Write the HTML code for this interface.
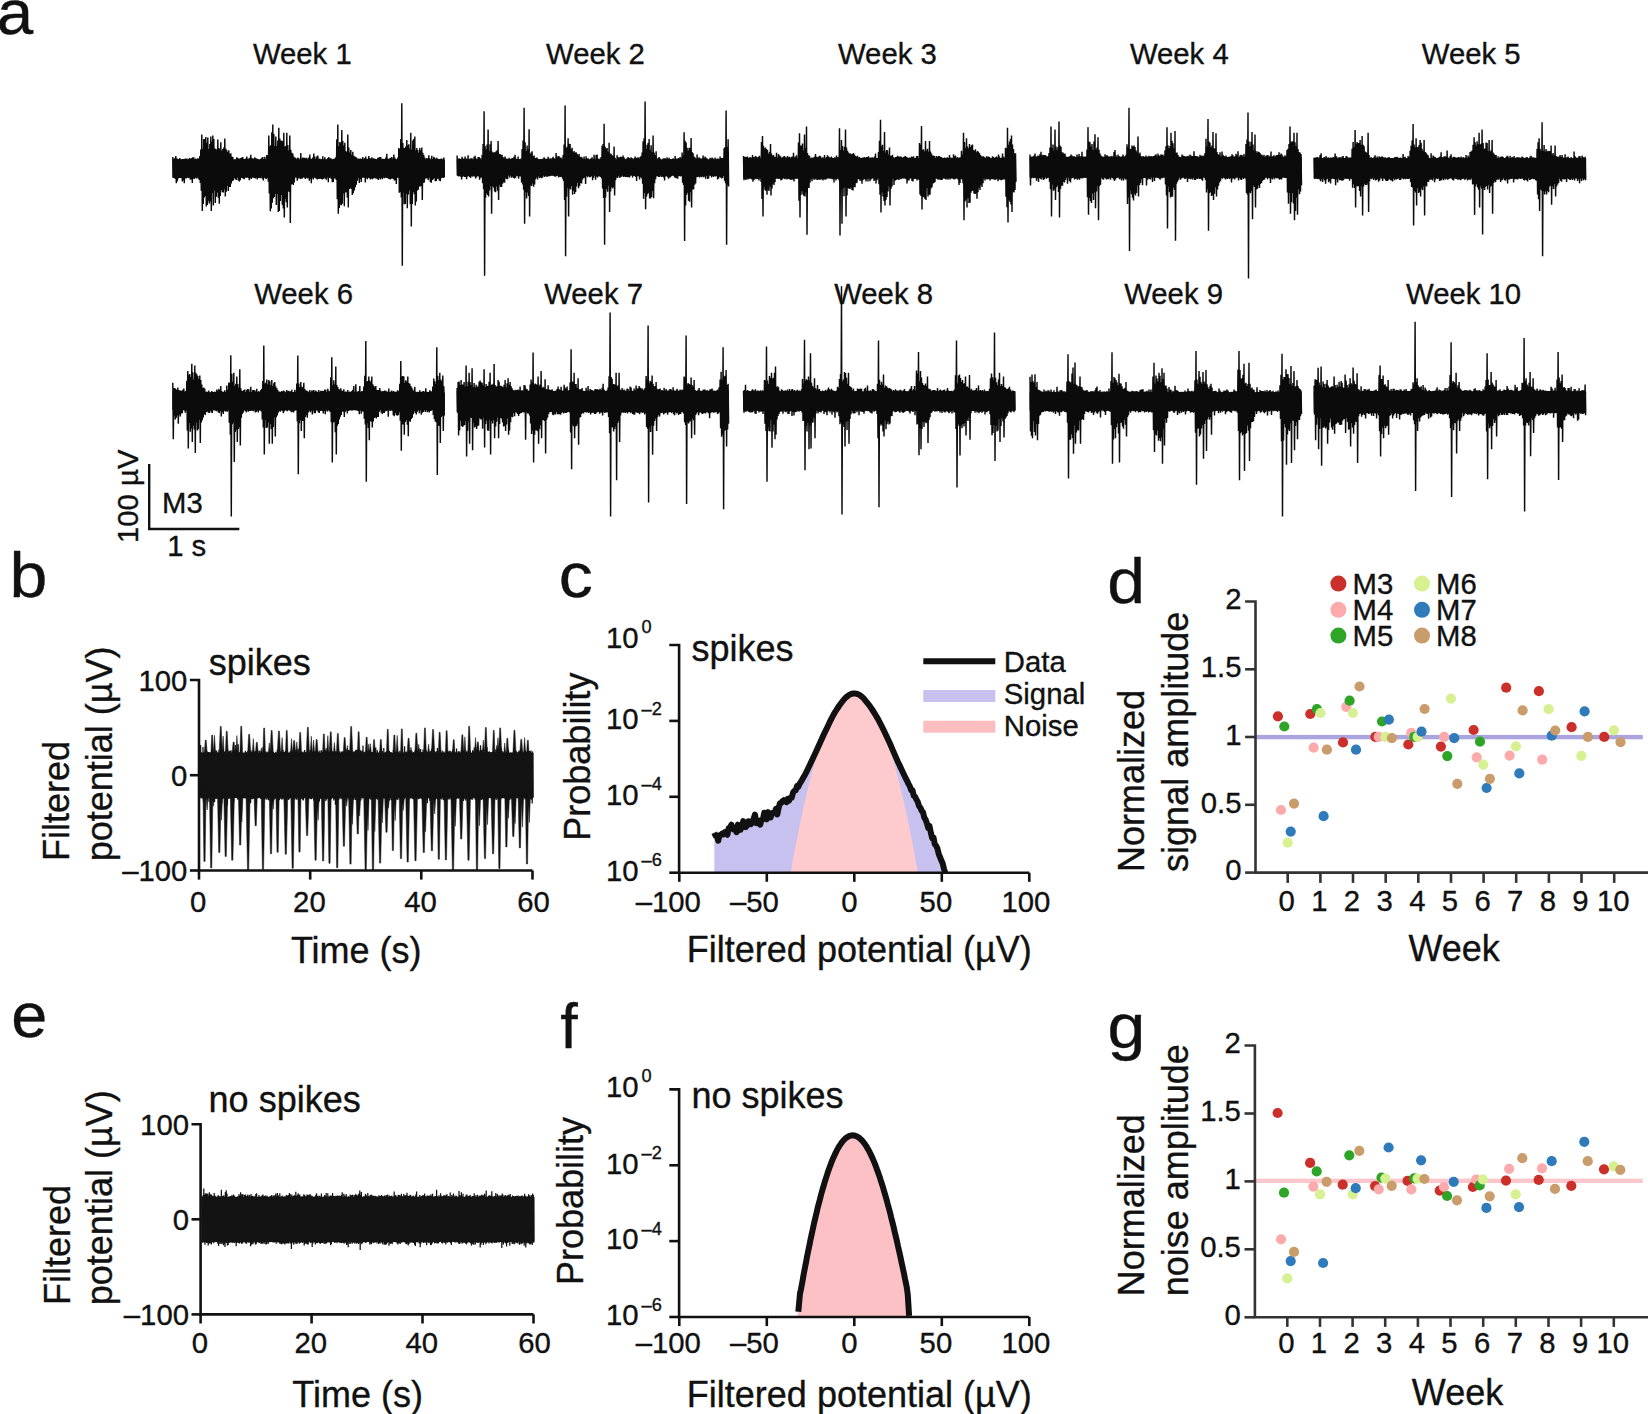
<!DOCTYPE html>
<html lang="en"><head><meta charset="utf-8"><title>Figure</title>
<style>html,body{margin:0;padding:0;background:#fff}body{width:1648px;height:1414px;overflow:hidden}svg{display:block}</style>
</head><body>
<svg width="1648" height="1414" viewBox="0 0 1648 1414" font-family='"Liberation Sans", sans-serif' fill="#111">
<style>text{stroke:#111;stroke-width:.35px;stroke-linejoin:round}</style>
<g id="panel-a">
<rect x="172.4" y="159.6" width="272.5" height="17.7" fill="#0b0b0b"/>
<path d="M172.8 157L172.8 157L173.3 177.9L173.8 159.1L174.3 178L174.8 157.9L175.3 178.9L175.8 155.9L176.3 183.2L176.8 158.2L177.3 181.2L177.8 158.9L178.3 178.4L178.8 159.3L179.3 178L179.8 158L180.3 178L180.8 159.4L181.3 178L181.8 159.3L182.3 181.4L182.8 159L183.3 180.3L183.8 159L184.3 183.3L184.8 158.8L185.3 178.2L185.8 158.4L186.3 178.5L186.8 158.6L187.3 177.6L187.8 159.5L188.3 178.1L188.8 158.8L189.3 177.7L189.8 158.1L190.3 179.8L190.8 159L191.3 179.6L191.8 158L192.3 183.1L192.8 157.2L193.3 178.4L193.8 157.3L194.3 179.1L194.8 159.3L195.3 177.6L195.8 158.4L196.3 178.6L196.8 159.4L197.3 177.5L197.8 158.2L198.3 178.7L198.8 158.5L199.3 180.1L199.8 156.1L200.3 183L200.8 149.5L201.3 190.8L201.8 134.6L202.3 211.1L202.8 148.8L203.3 204.1L203.8 139L204.3 197.6L204.8 138.9L205.3 195.9L205.8 137L206.3 206.5L206.8 142.8L207.3 205.1L207.8 137.6L208.3 200.8L208.8 148.9L209.3 203.5L209.8 144L210.3 201.4L210.8 136.4L211.3 211.1L211.8 141.5L212.3 193.1L212.8 135.5L213.3 205.6L213.8 139.1L214.3 190.4L214.8 148.6L215.3 202.9L215.8 148.7L216.3 196.7L216.8 149.7L217.3 192.4L217.8 139.5L218.3 197.7L218.8 147.9L219.3 203.7L219.8 149L220.3 196.1L220.8 142.2L221.3 189.9L221.8 150.7L222.3 192.2L222.8 149L223.3 192.6L223.8 147.5L224.3 189.6L224.8 138.6L225.3 196.5L225.8 148.8L226.3 191.8L226.8 150.3L227.3 185.8L227.8 151.9L228.3 191L228.8 150.2L229.3 186.9L229.8 153.7L230.3 187L230.8 153.2L231.3 183.6L231.8 156.6L232.3 181.1L232.8 157.1L233.3 180.4L233.8 159.6L234.3 177.9L234.8 159.3L235.3 179.3L235.8 159.6L236.3 179.9L236.8 157.2L237.3 177.5L237.8 158.1L238.3 180.5L238.8 158.7L239.3 181.4L239.8 158.5L240.3 180.3L240.8 158.1L241.3 178.1L241.8 157.5L242.3 178.1L242.8 156.9L243.3 178.7L243.8 159.1L244.3 179.2L244.8 159.1L245.3 177.6L245.8 158.6L246.3 177.7L246.8 156.6L247.3 177.3L247.8 158.8L248.3 178L248.8 158.5L249.3 180.2L249.8 157.7L250.3 178.1L250.8 154.7L251.3 179L251.8 158L252.3 177.3L252.8 158.6L253.3 177.8L253.8 158.6L254.3 177.9L254.8 157.3L255.3 178.6L255.8 158.3L256.3 177.7L256.8 158.5L257.3 179.5L257.8 159L258.3 177.9L258.8 159.5L259.3 177.8L259.8 159.6L260.3 178.3L260.8 158.8L261.3 177.3L261.8 157.8L262.3 178.8L262.8 157.1L263.3 180.5L263.8 159.1L264.3 177.6L264.8 156.8L265.3 178.5L265.8 159.1L266.3 178.9L266.8 155.1L267.3 177.9L267.8 154.9L268.3 181.8L268.8 135.4L269.3 193.6L269.8 146.3L270.3 211.3L270.8 145.2L271.3 208.4L271.8 132.2L272.3 202.8L272.8 124.6L273.3 198.3L273.8 134.1L274.3 196.9L274.8 146.1L275.3 193.7L275.8 136.6L276.3 204.9L276.8 146.2L277.3 193.9L277.8 140.5L278.3 211.9L278.8 127.7L279.3 211.1L279.8 138.4L280.3 200.9L280.8 140.4L281.3 195.1L281.8 140.8L282.3 204.7L282.8 141.2L283.3 208.5L283.8 132.8L284.3 217.4L284.8 146.5L285.3 198.9L285.8 146L286.3 202.2L286.8 132.8L287.3 207.4L287.8 145L288.3 191.3L288.8 150.4L289.3 191.9L289.8 135.5L290.3 222.9L290.8 149.8L291.3 184.4L291.8 152.8L292.3 184.1L292.8 153.5L293.3 184.9L293.8 156.6L294.3 182.5L294.8 157.5L295.3 177.4L295.8 158L296.3 177.6L296.8 159.3L297.3 180.7L297.8 157.5L298.3 178.5L298.8 158.2L299.3 177.7L299.8 159.6L300.3 179.1L300.8 153.1L301.3 178.8L301.8 158.5L302.3 178.6L302.8 157.4L303.3 177.3L303.8 157.8L304.3 177.6L304.8 157.7L305.3 178.9L305.8 158.2L306.3 177.6L306.8 157.8L307.3 178.6L307.8 159.4L308.3 177.9L308.8 157.4L309.3 180.8L309.8 154.5L310.3 178.9L310.8 158.5L311.3 183.3L311.8 159L312.3 177.9L312.8 157.5L313.3 179.5L313.8 153.4L314.3 177.8L314.8 156.6L315.3 177.8L315.8 159L316.3 178.8L316.8 156.5L317.3 179.6L317.8 155.5L318.3 178.8L318.8 158.7L319.3 179L319.8 158.5L320.3 178.7L320.8 159.4L321.3 179.1L321.8 159.1L322.3 179.4L322.8 156.2L323.3 179L323.8 159.4L324.3 177.7L324.8 157.3L325.3 178.8L325.8 159.2L326.3 179.7L326.8 159.2L327.3 177.4L327.8 157.9L328.3 182.2L328.8 157.1L329.3 177.9L329.8 158.6L330.3 177.4L330.8 158L331.3 178.9L331.8 159.3L332.3 182.2L332.8 159.6L333.3 182.1L333.8 158.8L334.3 178.4L334.8 158.5L335.3 178.4L335.8 157.2L336.3 179.9L336.8 139.2L337.3 199.2L337.8 124.6L338.3 213.8L338.8 146.2L339.3 208L339.8 142L340.3 204.8L340.8 142.5L341.3 205.2L341.8 130.1L342.3 203.8L342.8 141.1L343.3 193.4L343.8 145.6L344.3 206.2L344.8 142.7L345.3 192.4L345.8 150.9L346.3 192.3L346.8 151.9L347.3 197.4L347.8 134.6L348.3 207.4L348.8 147.6L349.3 188.9L349.8 152.6L350.3 188.2L350.8 149.9L351.3 189L351.8 154.7L352.3 195L352.8 151.8L353.3 193.2L353.8 155.8L354.3 190.6L354.8 156.6L355.3 187.2L355.8 157.1L356.3 184.7L356.8 157.8L357.3 180.8L357.8 159.3L358.3 178.1L358.8 158.6L359.3 182.9L359.8 158.8L360.3 179.1L360.8 158.5L361.3 182L361.8 159L362.3 177.4L362.8 157L363.3 177.8L363.8 158.9L364.3 177.4L364.8 157.9L365.3 182.4L365.8 156.5L366.3 177.7L366.8 159L367.3 179.3L367.8 158.7L368.3 177.7L368.8 156.1L369.3 178L369.8 158.1L370.3 179.4L370.8 158.7L371.3 178.5L371.8 157.3L372.3 179.3L372.8 158.6L373.3 178.5L373.8 158.3L374.3 177.7L374.8 158.8L375.3 178.4L375.8 159L376.3 178.4L376.8 159.5L377.3 179.1L377.8 157.7L378.3 180.1L378.8 157.6L379.3 177.9L379.8 157L380.3 179.6L380.8 157.1L381.3 178L381.8 159.1L382.3 179.3L382.8 158.8L383.3 177.5L383.8 159.1L384.3 178.3L384.8 158.9L385.3 177.3L385.8 157.5L386.3 177.9L386.8 153.8L387.3 177.7L387.8 158.4L388.3 178.8L388.8 159L389.3 178.9L389.8 158.2L390.3 179.4L390.8 157.8L391.3 178.8L391.8 157.1L392.3 178.6L392.8 158.6L393.3 178.9L393.8 154.4L394.3 180.6L394.8 157.4L395.3 180.4L395.8 159.1L396.3 183.9L396.8 159.2L397.3 177.7L397.8 157.5L398.3 177.8L398.8 148.1L399.3 192.8L399.8 149L400.3 192.2L400.8 139L401.3 197.6L401.8 103.3L402.3 265.7L402.8 142.9L403.3 192.5L403.8 147.8L404.3 204.2L404.8 148L405.3 204L405.8 146.5L406.3 193.7L406.8 140.1L407.3 208.3L407.8 145.2L408.3 194.5L408.8 144.2L409.3 190.5L409.8 148.6L410.3 204.2L410.8 132.8L411.3 226.5L411.8 149.7L412.3 203.9L412.8 140.6L413.3 191.9L413.8 139.1L414.3 194.3L414.8 136.4L415.3 205.6L415.8 150.3L416.3 201.4L416.8 148.1L417.3 190.4L417.8 149.9L418.3 189.8L418.8 152.7L419.3 186.4L419.8 148.1L420.3 186.4L420.8 150.2L421.3 186.1L421.8 147.4L422.3 200.1L422.8 152.8L423.3 183L423.8 154.9L424.3 182.5L424.8 157.5L425.3 178.7L425.8 159.3L426.3 178.3L426.8 157.9L427.3 178.4L427.8 158.4L428.3 180L428.8 155.2L429.3 177.6L429.8 158.2L430.3 182.1L430.8 159.5L431.3 182.7L431.8 155.8L432.3 180L432.8 159L433.3 179.3L433.8 156.8L434.3 178.1L434.8 157.7L435.3 181.2L435.8 159L436.3 180.9L436.8 157.7L437.3 178.8L437.8 158.7L438.3 178.7L438.8 159.2L439.3 180.6L439.8 158.9L440.3 181.2L440.8 158.8L441.3 178.3L441.8 158.4L442.3 177.4L442.8 159.6L443.3 178L443.8 157.4L444.3 177.3" fill="none" stroke="#0b0b0b" stroke-width="1.45" stroke-linejoin="bevel"/>
<rect x="456.7" y="159.6" width="272.3" height="15.8" fill="#0b0b0b"/>
<path d="M457.1 155.6L457.1 155.6L457.6 175.7L458.1 158.7L458.6 176.5L459.1 158.3L459.6 176.1L460.1 158.9L460.6 176.7L461.1 158.7L461.6 179.6L462.1 156.7L462.6 177L463.1 158.4L463.6 175.7L464.1 158.7L464.6 177L465.1 156.6L465.6 177.1L466.1 158.5L466.6 179.3L467.1 158.8L467.6 176.5L468.1 155.3L468.6 176L469.1 159.4L469.6 176.9L470.1 158.5L470.6 178.1L471.1 158.2L471.6 176.2L472.1 158.2L472.6 176.8L473.1 159.4L473.6 175.8L474.1 156.7L474.6 176.4L475.1 155.7L475.6 178.6L476.1 158.6L476.6 177.3L477.1 159.2L477.6 176.1L478.1 157.1L478.6 176.5L479.1 157.1L479.6 179.7L480.1 157.9L480.6 177.8L481.1 159.4L481.6 177.4L482.1 155L482.6 183.3L483.1 143.9L483.6 189.2L484.1 111.3L484.6 275.7L485.1 145.9L485.6 197.7L486.1 149.2L486.6 193.5L487.1 144.6L487.6 194.9L488.1 129.5L488.6 196.5L489.1 151L489.6 190.4L490.1 144.3L490.6 186.3L491.1 141L491.6 213.8L492.1 151.6L492.6 185.9L493.1 153L493.6 187.5L494.1 151.9L494.6 191.4L495.1 152.5L495.6 192.3L496.1 151.2L496.6 186.4L497.1 150.3L497.6 190.7L498.1 141L498.6 200.1L499.1 153.8L499.6 184.7L500.1 154L500.6 186.9L501.1 155L501.6 187.1L502.1 154.8L502.6 183.7L503.1 157.3L503.6 182.2L504.1 157.5L504.6 182.8L505.1 156.4L505.6 178.6L506.1 158.7L506.6 178.9L507.1 158.5L507.6 179.3L508.1 159.1L508.6 175.5L509.1 157.8L509.6 177.6L510.1 158.9L510.6 175.6L511.1 158.8L511.6 177.8L512.1 158.1L512.6 176.7L513.1 158.3L513.6 177.9L514.1 156.8L514.6 178.6L515.1 154.8L515.6 177.7L516.1 158.7L516.6 175.7L517.1 159.1L517.6 176.2L518.1 156.5L518.6 178.8L519.1 159.1L519.6 176.3L520.1 159.3L520.6 176.5L521.1 158.6L521.6 182.6L522.1 148.9L522.6 184.4L523.1 140.6L523.6 189.8L524.1 107.7L524.6 223.8L525.1 142.3L525.6 192.2L526.1 150.9L526.6 198.5L527.1 145.4L527.6 192.5L528.1 149.2L528.6 195.9L529.1 129.2L529.6 216.5L530.1 153.9L530.6 185.5L531.1 152.6L531.6 186L532.1 151.2L532.6 183.6L533.1 156.2L533.6 186.8L534.1 155.5L534.6 184.4L535.1 158L535.6 179.2L536.1 157.7L536.6 177.5L537.1 157.4L537.6 179.4L538.1 158.9L538.6 176.4L539.1 159.4L539.6 178.1L540.1 158.9L540.6 177.5L541.1 159.1L541.6 178.2L542.1 159.3L542.6 177.4L543.1 158.4L543.6 175.5L544.1 157.3L544.6 176.9L545.1 158.6L545.6 175.9L546.1 158.8L546.6 176.7L547.1 158.8L547.6 176.7L548.1 156.8L548.6 176.2L549.1 158.7L549.6 176.3L550.1 158.3L550.6 175.8L551.1 159.1L551.6 175.8L552.1 158.1L552.6 175.7L553.1 156.7L553.6 175.8L554.1 158.3L554.6 176.5L555.1 158.6L555.6 176.8L556.1 153.1L556.6 176L557.1 157.2L557.6 175.5L558.1 155.9L558.6 177.6L559.1 156.2L559.6 176.7L560.1 157.6L560.6 177L561.1 157.4L561.6 176.7L562.1 158.8L562.6 178.8L563.1 155.1L563.6 181L564.1 144.6L564.6 200L565.1 105.5L565.6 256.2L566.1 148.1L566.6 196.8L567.1 146.8L567.6 187.7L568.1 138.3L568.6 216.5L569.1 143.7L569.6 188.5L570.1 143.9L570.6 189.4L571.1 149.2L571.6 186.1L572.1 147.7L572.6 194.8L573.1 152.2L573.6 190.7L574.1 151.1L574.6 194L575.1 152.5L575.6 192.1L576.1 152.2L576.6 186.6L577.1 153.8L577.6 182.7L578.1 155.2L578.6 188.2L579.1 154.1L579.6 185.9L580.1 156.9L580.6 183.1L581.1 156.8L581.6 183.4L582.1 157.5L582.6 179.6L583.1 158.8L583.6 178L584.1 156.5L584.6 177.7L585.1 159.3L585.6 184L586.1 156.2L586.6 175.9L587.1 158.5L587.6 177.3L588.1 158.3L588.6 176L589.1 159.2L589.6 177.3L590.1 159.3L590.6 176.9L591.1 158.3L591.6 176.1L592.1 157.3L592.6 180.3L593.1 159.3L593.6 177.8L594.1 154.7L594.6 175.5L595.1 159.3L595.6 179.8L596.1 154.9L596.6 176.6L597.1 154.5L597.6 177.6L598.1 158.6L598.6 176.3L599.1 159.4L599.6 176.5L600.1 158.5L600.6 176.9L601.1 157.1L601.6 178.4L602.1 145.7L602.6 188.4L603.1 144.1L603.6 197.9L604.1 123.7L604.6 244.7L605.1 146.7L605.6 197.5L606.1 148.7L606.6 188.9L607.1 148L607.6 191.8L608.1 151.8L608.6 185.4L609.1 142.8L609.6 212L610.1 153.6L610.6 191.6L611.1 153.7L611.6 187.3L612.1 155.2L612.6 188.5L613.1 155.8L613.6 187.1L614.1 146.4L614.6 195.6L615.1 157.8L615.6 180.3L616.1 159.6L616.6 177.6L617.1 155.2L617.6 178.1L618.1 157L618.6 175.7L619.1 158L619.6 177.8L620.1 156.8L620.6 177.3L621.1 156.8L621.6 176.7L622.1 157.1L622.6 175.5L623.1 155.5L623.6 177L624.1 157.4L624.6 176.6L625.1 159.4L625.6 177.1L626.1 158.7L626.6 177L627.1 158.2L627.6 177.2L628.1 157L628.6 176.9L629.1 157.9L629.6 177.4L630.1 158.3L630.6 175.5L631.1 157.2L631.6 175.6L632.1 158L632.6 177.4L633.1 159.5L633.6 175.8L634.1 158.2L634.6 176L635.1 156.6L635.6 177L636.1 158.1L636.6 180.9L637.1 157.7L637.6 176L638.1 157.2L638.6 176.4L639.1 158.4L639.6 179.4L640.1 157.1L640.6 177.1L641.1 156L641.6 178.2L642.1 152.5L642.6 183.7L643.1 141.2L643.6 198.8L644.1 138.2L644.6 193.1L645.1 101.5L645.6 209.2L646.1 149L646.6 196.6L647.1 144.7L647.6 193.9L648.1 143.1L648.6 192.8L649.1 139.1L649.6 198.4L650.1 150.1L650.6 198.5L651.1 145.2L651.6 197.1L652.1 152.2L652.6 191L653.1 135.5L653.6 198.3L654.1 152.6L654.6 183.2L655.1 155L655.6 179.3L656.1 151.3L656.6 176.6L657.1 159.2L657.6 175.9L658.1 158L658.6 176.9L659.1 157L659.6 176.9L660.1 158.6L660.6 175.5L661.1 159.4L661.6 176.9L662.1 159.4L662.6 176.4L663.1 158.5L663.6 177.5L664.1 158.2L664.6 180.6L665.1 158.3L665.6 176.6L666.1 158.8L666.6 175.9L667.1 157.3L667.6 177.3L668.1 159L668.6 178.7L669.1 157.8L669.6 177.5L670.1 159L670.6 177.2L671.1 159.2L671.6 176L672.1 159L672.6 175.6L673.1 158.2L673.6 175.8L674.1 158.9L674.6 177.4L675.1 156L675.6 177.8L676.1 158.4L676.6 178.3L677.1 159.2L677.6 178.7L678.1 158L678.6 176.2L679.1 158.3L679.6 176.1L680.1 156.9L680.6 176.4L681.1 158.3L681.6 175.9L682.1 152.6L682.6 182.8L683.1 155.8L683.6 185L684.1 132.2L684.6 241.1L685.1 140.7L685.6 205.5L686.1 142.4L686.6 194.8L687.1 147.7L687.6 192.8L688.1 150.5L688.6 200.8L689.1 147.8L689.6 201.8L690.1 148L690.6 192.3L691.1 137.9L691.6 207.4L692.1 151.9L692.6 189.6L693.1 153.3L693.6 189.4L694.1 156.6L694.6 184.7L695.1 157.4L695.6 183.5L696.1 158.6L696.6 177.2L697.1 154.5L697.6 177L698.1 158.3L698.6 176.8L699.1 157.3L699.6 177.6L700.1 158.2L700.6 176.6L701.1 158.8L701.6 177.3L702.1 158.2L702.6 176.6L703.1 155.4L703.6 177.2L704.1 158.1L704.6 176.5L705.1 156.4L705.6 178.7L706.1 157.7L706.6 175.5L707.1 158.4L707.6 179L708.1 159.3L708.6 178.5L709.1 159.5L709.6 175.5L710.1 157.7L710.6 175.7L711.1 158.4L711.6 177.6L712.1 157.6L712.6 176L713.1 158.5L713.6 177.1L714.1 159.2L714.6 176L715.1 157.6L715.6 176.4L716.1 159.4L716.6 176.1L717.1 158.5L717.6 179.4L718.1 158.6L718.6 178.6L719.1 159.2L719.6 176.7L720.1 156.5L720.6 177.6L721.1 158.1L721.6 178.4L722.1 158.1L722.6 178.1L723.1 158L723.6 175.9L724.1 148.2L724.6 180.7L725.1 147L725.6 183.2L726.1 110.6L726.6 244.7L727.1 146.9L727.6 184.7L728.1 139.2L728.6 186.5" fill="none" stroke="#0b0b0b" stroke-width="1.45" stroke-linejoin="bevel"/>
<rect x="743.1" y="158.4" width="272.7" height="19.8" fill="#0b0b0b"/>
<path d="M743.5 155.9L743.5 155.9L744 180.2L744.5 157L745 179L745.5 156.7L746 179.9L746.5 157L747 178.6L747.5 156.4L748 179.6L748.5 157.9L749 178.6L749.5 157.6L750 178.7L750.5 157L751 178.8L751.5 158.2L752 179.5L752.5 155L753 181.8L753.5 156.9L754 180L754.5 157.3L755 178.5L755.5 156.1L756 179.3L756.5 156.7L757 178.8L757.5 157.5L758 178.9L758.5 156.8L759 180.5L759.5 155.8L760 178.3L760.5 158.2L761 181.7L761.5 142.1L762 199.1L762.5 136.1L763 216.5L763.5 145.7L764 187.2L764.5 148.3L765 190.1L765.5 147.5L766 191.1L766.5 149.1L767 194.8L767.5 150L768 189.8L768.5 153.8L769 191.1L769.5 152.1L770 186.5L770.5 144.1L771 195.6L771.5 153.6L772 188.5L772.5 155.7L773 183.8L773.5 154.9L774 185L774.5 156.7L775 182.3L775.5 156.9L776 178.7L776.5 152.7L777 178.6L777.5 157.5L778 178.8L778.5 154L779 179L779.5 155.6L780 178.7L780.5 156.2L781 180.5L781.5 157.8L782 179.8L782.5 157.3L783 178.3L783.5 156.6L784 178.6L784.5 156L785 179.2L785.5 157.2L786 178.3L786.5 157.5L787 179.4L787.5 156L788 178.8L788.5 157.3L789 178.9L789.5 156.8L790 179.4L790.5 158.2L791 180.1L791.5 156.8L792 179.3L792.5 156.6L793 179.8L793.5 152.8L794 181.6L794.5 157.2L795 178.6L795.5 156.4L796 179.1L796.5 155.2L797 178.4L797.5 158.3L798 178.7L798.5 142.6L799 200.7L799.5 133.2L800 217.4L800.5 145.5L801 194.9L801.5 145.5L802 191.2L802.5 143.4L803 194.6L803.5 150.5L804 196L804.5 134.6L805 196.5L805.5 148L806 192.5L806.5 126.4L807 234.7L807.5 153L808 187.7L808.5 155.3L809 188.1L809.5 155.7L810 182.8L810.5 158.4L811 179.2L811.5 157.6L812 181.3L812.5 157.8L813 178.3L813.5 157.5L814 179.7L814.5 156.8L815 179.4L815.5 154.1L816 178.6L816.5 156.7L817 180.1L817.5 157.2L818 179.8L818.5 156.8L819 179.3L819.5 155.7L820 180L820.5 156.3L821 179L821.5 158.3L822 179.4L822.5 157.3L823 180.6L823.5 157.7L824 179.1L824.5 155L825 179.7L825.5 158L826 179.5L826.5 157L827 178.6L827.5 155.2L828 178.4L828.5 156.6L829 178.3L829.5 157.2L830 178.7L830.5 157.5L831 178.3L831.5 156.5L832 179.2L832.5 157.9L833 179.3L833.5 158L834 182.4L834.5 157.2L835 179L835.5 157.6L836 180.5L836.5 155.5L837 179L837.5 157.3L838 178.4L838.5 157.1L839 180.3L839.5 128.2L840 235.6L840.5 150L841 189.1L841.5 140.1L842 223.8L842.5 146.1L843 188.1L843.5 150.6L844 196.3L844.5 146.8L845 187.3L845.5 129.5L846 216.5L846.5 147.5L847 195.5L847.5 150.8L848 188.1L848.5 152.4L849 188.8L849.5 153.8L850 189L850.5 153.2L851 187.7L851.5 154.4L852 190L852.5 153.9L853 190.5L853.5 153.1L854 186.7L854.5 154.4L855 187.2L855.5 155.9L856 183.2L856.5 156.6L857 182.8L857.5 155.7L858 179.3L858.5 157.6L859 179.2L859.5 157.1L860 180.7L860.5 158L861 180.8L861.5 158.1L862 183.7L862.5 157.5L863 180.3L863.5 157.5L864 179.1L864.5 157L865 179.5L865.5 157.9L866 181.4L866.5 157.1L867 179.3L867.5 157.1L868 181.5L868.5 156.3L869 178.4L869.5 157.7L870 181.2L870.5 157.5L871 179.6L871.5 157.6L872 178.5L872.5 157.3L873 178.3L873.5 158L874 181.1L874.5 156.6L875 179.8L875.5 153.6L876 183.4L876.5 158L877 180.3L877.5 157.9L878 178.5L878.5 151.9L879 184.3L879.5 140.7L880 194.8L880.5 119.7L881 212.5L881.5 146.3L882 192.6L882.5 144.8L883 196.6L883.5 151.1L884 200.9L884.5 131.9L885 205.6L885.5 152.5L886 199.8L886.5 150L887 197L887.5 150.3L888 191.5L888.5 154.5L889 186.6L889.5 147.4L890 205.6L890.5 155.8L891 188.7L891.5 155.7L892 186.5L892.5 154.8L893 178.8L893.5 157.2L894 185L894.5 158.2L895 180.7L895.5 156.9L896 180L896.5 157.1L897 179.6L897.5 155.7L898 179.2L898.5 156.6L899 180L899.5 156.4L900 178.5L900.5 156.4L901 179.2L901.5 156.7L902 178.3L902.5 158.1L903 178.6L903.5 157.1L904 178.3L904.5 156.4L905 178.5L905.5 156.1L906 178.9L906.5 157.1L907 183.4L907.5 157.5L908 180.4L908.5 158L909 180.4L909.5 157.5L910 178.3L910.5 157.7L911 178.6L911.5 156.6L912 181.1L912.5 157.1L913 181.5L913.5 156.3L914 178.9L914.5 158L915 178.8L915.5 158.1L916 178.9L916.5 155.9L917 180.4L917.5 155.9L918 178.9L918.5 158.3L919 180L919.5 143L920 194.4L920.5 144.7L921 196L921.5 126.1L922 209.6L922.5 149.9L923 197L923.5 149.3L924 197.3L924.5 151.4L925 198.9L925.5 141L926 200.1L926.5 150.4L927 188L927.5 148.8L928 196.4L928.5 151.7L929 194.7L929.5 141L930 194.7L930.5 151.4L931 188.4L931.5 153.4L932 187.2L932.5 155.4L933 183.5L933.5 155.5L934 183.1L934.5 156.1L935 182L935.5 157.7L936 178.5L936.5 156L937 178.7L937.5 157.1L938 179.7L938.5 155.9L939 179.3L939.5 156.1L940 179.8L940.5 156.9L941 180L941.5 157.1L942 179.9L942.5 157.9L943 178.5L943.5 158.1L944 178.4L944.5 157.4L945 178.8L945.5 158.1L946 179.6L946.5 157.8L947 178.4L947.5 157.3L948 179.8L948.5 158L949 178.3L949.5 155.1L950 179.6L950.5 157.4L951 178.6L951.5 157.8L952 178.3L952.5 158L953 178.8L953.5 154.3L954 179.4L954.5 156.3L955 179.3L955.5 155.4L956 178.6L956.5 158.1L957 178.3L957.5 156.9L958 179.5L958.5 158L959 184.9L959.5 157.4L960 182.9L960.5 157.2L961 179.1L961.5 150.7L962 179.6L962.5 154.8L963 183.2L963.5 132.8L964 220.2L964.5 141.9L965 201.4L965.5 147.9L966 199.7L966.5 138.3L967 207.4L967.5 146.4L968 198.1L968.5 148.3L969 203.1L969.5 144.1L970 202.8L970.5 147L971 192.7L971.5 145.3L972 191.1L972.5 144.6L973 190.5L973.5 150.1L974 193.4L974.5 150.7L975 193.9L975.5 149.3L976 193.6L976.5 152.3L977 198.7L977.5 150.9L978 192.3L978.5 151.7L979 187.7L979.5 153.2L980 190L980.5 154.9L981 184.9L981.5 156.2L982 186.9L982.5 156.6L983 183.2L983.5 156.3L984 178.4L984.5 157.3L985 180.4L985.5 158.1L986 178.8L986.5 156.3L987 179.4L987.5 156.7L988 179.3L988.5 156.5L989 178.9L989.5 156.9L990 180.4L990.5 158L991 179.2L991.5 158.2L992 178.9L992.5 156.3L993 179.2L993.5 157L994 179.5L994.5 158.1L995 180L995.5 157.3L996 179.5L996.5 156.6L997 178.9L997.5 157.6L998 181.2L998.5 154.4L999 179.5L999.5 156.4L1000 179.7L1000.5 158L1001 180.2L1001.5 157.8L1002 180.1L1002.5 153.5L1003 179.3L1003.5 156.7L1004 179.6L1004.5 157.7L1005 179.4L1005.5 147.7L1006 196.8L1006.5 148.3L1007 207.3L1007.5 127.7L1008 222.5L1008.5 144.7L1009 200.3L1009.5 141.5L1010 202.1L1010.5 139.1L1011 204.5L1011.5 135.5L1012 212L1012.5 144.6L1013 192L1013.5 148.9L1014 192.4L1014.5 153.3L1015 190L1015.5 153.3L1016 181.7" fill="none" stroke="#0b0b0b" stroke-width="1.45" stroke-linejoin="bevel"/>
<rect x="1029.6" y="157.1" width="272.1" height="20.2" fill="#0b0b0b"/>
<path d="M1030 154.6L1030 154.6L1030.5 185.6L1031 156.7L1031.5 178.2L1032 156.5L1032.5 177.6L1033 156.5L1033.5 178.3L1034 155.5L1034.5 177.4L1035 153.6L1035.5 177.9L1036 156.4L1036.5 180.7L1037 156.4L1037.5 178.3L1038 155.6L1038.5 182L1039 156.1L1039.5 178L1040 154.1L1040.5 178.7L1041 151.8L1041.5 179.6L1042 155.6L1042.5 177.6L1043 154.7L1043.5 180L1044 155.3L1044.5 179.1L1045 155L1045.5 177.3L1046 155.5L1046.5 178.8L1047 157L1047.5 177.9L1048 156L1048.5 177.4L1049 152.9L1049.5 181.8L1050 147.5L1050.5 189.3L1051 126.4L1051.5 216.5L1052 148L1052.5 184.6L1053 144.4L1053.5 190.8L1054 150.5L1054.5 189.6L1055 129.5L1055.5 200.1L1056 146.5L1056.5 187.3L1057 149.7L1057.5 185.5L1058 146.9L1058.5 192L1059 121.5L1059.5 217.4L1060 145.5L1060.5 189.1L1061 146.8L1061.5 185.8L1062 152.3L1062.5 185.7L1063 152.6L1063.5 181.8L1064 154.1L1064.5 182.4L1065 153.5L1065.5 180L1066 156.4L1066.5 177.5L1067 157L1067.5 183.8L1068 156.7L1068.5 177.5L1069 156.8L1069.5 181L1070 156.1L1070.5 182.4L1071 154.5L1071.5 178.6L1072 155.5L1072.5 178L1073 156.7L1073.5 177.7L1074 155.9L1074.5 179.6L1075 156.9L1075.5 178.9L1076 156.7L1076.5 178.6L1077 154.5L1077.5 179.7L1078 156.5L1078.5 178.6L1079 153.9L1079.5 179.7L1080 156.2L1080.5 178.3L1081 156.3L1081.5 178.2L1082 151.7L1082.5 178.4L1083 156.5L1083.5 177.7L1084 156.6L1084.5 177.7L1085 156.7L1085.5 178.1L1086 156.4L1086.5 177.6L1087 149.4L1087.5 197.3L1088 127.3L1088.5 214.7L1089 141.6L1089.5 198L1090 142.3L1090.5 201.2L1091 146.4L1091.5 203.1L1092 143.9L1092.5 193.4L1093 149.9L1093.5 199.9L1094 141.6L1094.5 192.6L1095 134.2L1095.5 208.3L1096 149.6L1096.5 191.5L1097 147.4L1097.5 186.3L1098 137.3L1098.5 220.2L1099 149.8L1099.5 186.1L1100 153.5L1100.5 184.7L1101 155.5L1101.5 177.5L1102 156.4L1102.5 179.2L1103 156.5L1103.5 179.8L1104 156.9L1104.5 177.7L1105 154.3L1105.5 178.6L1106 156.1L1106.5 179.4L1107 155L1107.5 178.9L1108 156.2L1108.5 179.3L1109 156.7L1109.5 177.8L1110 156.3L1110.5 179.7L1111 156.4L1111.5 177.4L1112 155.7L1112.5 178L1113 157L1113.5 179.4L1114 152.1L1114.5 181.1L1115 150L1115.5 179.4L1116 155.2L1116.5 178.1L1117 156.9L1117.5 177.8L1118 154.6L1118.5 177.6L1119 156.1L1119.5 179.2L1120 156.5L1120.5 178.5L1121 157L1121.5 180.6L1122 156.3L1122.5 178.7L1123 154.5L1123.5 180.5L1124 156.5L1124.5 178.3L1125 156.2L1125.5 179.5L1126 154.7L1126.5 179.6L1127 144.3L1127.5 203.9L1128 147L1128.5 197.4L1129 107.7L1129.5 251.1L1130 148.8L1130.5 190.5L1131 149.1L1131.5 194.3L1132 145.4L1132.5 197.7L1133 146.6L1133.5 200.4L1134 145.5L1134.5 193.8L1135 146.9L1135.5 195.6L1136 150.2L1136.5 192.9L1137 152.3L1137.5 185.5L1138 136.4L1138.5 196.5L1139 154L1139.5 184.9L1140 152.4L1140.5 183.1L1141 156.1L1141.5 179L1142 156.9L1142.5 185.3L1143 156.1L1143.5 177.9L1144 156.6L1144.5 177.9L1145 157L1145.5 177.8L1146 155.6L1146.5 185.6L1147 157L1147.5 179.8L1148 156.6L1148.5 178.4L1149 155.7L1149.5 179.1L1150 156.7L1150.5 179.6L1151 155.9L1151.5 177.5L1152 156.6L1152.5 182L1153 156.3L1153.5 177.3L1154 156L1154.5 181.1L1155 155.3L1155.5 177.8L1156 154.2L1156.5 177.6L1157 156.2L1157.5 177.9L1158 153.4L1158.5 177.7L1159 155.6L1159.5 179.3L1160 155.4L1160.5 179.5L1161 154.3L1161.5 177.7L1162 155.1L1162.5 178.3L1163 154.5L1163.5 177.6L1164 156L1164.5 177.6L1165 150.2L1165.5 184.4L1166 146.2L1166.5 195.4L1167 127.3L1167.5 228.4L1168 145.3L1168.5 186.8L1169 148.3L1169.5 192.3L1170 145.9L1170.5 197.4L1171 132.8L1171.5 196.5L1172 140.7L1172.5 196.7L1173 143.2L1173.5 187.5L1174 148.2L1174.5 189.9L1175 131L1175.5 240.7L1176 152.8L1176.5 183.7L1177 152.5L1177.5 181.7L1178 155.1L1178.5 179.7L1179 156.4L1179.5 177.6L1180 157.1L1180.5 179.8L1181 157L1181.5 178.4L1182 154.6L1182.5 177.8L1183 155.6L1183.5 177.4L1184 155.9L1184.5 178.8L1185 156.3L1185.5 178.9L1186 156.7L1186.5 177.4L1187 156.3L1187.5 181.9L1188 155.8L1188.5 178.8L1189 156.5L1189.5 178.8L1190 154.6L1190.5 179.3L1191 155.6L1191.5 178.6L1192 155.9L1192.5 179.5L1193 155.9L1193.5 177.8L1194 151.3L1194.5 180L1195 155.9L1195.5 179.9L1196 156.1L1196.5 178.4L1197 156.3L1197.5 179.1L1198 156.6L1198.5 177.7L1199 157L1199.5 178.9L1200 154.7L1200.5 178.8L1201 155.9L1201.5 179.6L1202 155.4L1202.5 180.7L1203 156.3L1203.5 177.5L1204 155.6L1204.5 177.8L1205 153.1L1205.5 180L1206 138.7L1206.5 192.6L1207 146.6L1207.5 189.2L1208 119.1L1208.5 230.7L1209 141.5L1209.5 193.1L1210 142.8L1210.5 192.3L1211 147.2L1211.5 196.1L1212 145.6L1212.5 195.2L1213 131.9L1213.5 200.1L1214 148.3L1214.5 193.8L1215 148.6L1215.5 187.3L1216 133.2L1216.5 196.5L1217 151.9L1217.5 189.6L1218 154.2L1218.5 185.8L1219 154.8L1219.5 182.4L1220 152.3L1220.5 181L1221 156.4L1221.5 178.2L1222 151.5L1222.5 178.7L1223 154.8L1223.5 177.6L1224 155.9L1224.5 178.2L1225 156.5L1225.5 179.5L1226 155.4L1226.5 178.6L1227 156.9L1227.5 179.1L1228 157L1228.5 177.7L1229 156.8L1229.5 179L1230 156.6L1230.5 178.3L1231 156.3L1231.5 182.4L1232 154.2L1232.5 178.7L1233 155.3L1233.5 178.2L1234 156.9L1234.5 179.4L1235 156.2L1235.5 178.6L1236 153.7L1236.5 177.4L1237 155.3L1237.5 177.5L1238 151.2L1238.5 180.4L1239 157L1239.5 178.1L1240 155.4L1240.5 179.4L1241 154.8L1241.5 180.1L1242 155.1L1242.5 178L1243 156.6L1243.5 178.9L1244 154.1L1244.5 177.9L1245 156.5L1245.5 178.5L1246 144.1L1246.5 193.1L1247 139.4L1247.5 194.7L1248 112.4L1248.5 278.4L1249 141.5L1249.5 192.2L1250 146.2L1250.5 193.3L1251 141.8L1251.5 190.7L1252 131.9L1252.5 219.3L1253 144.5L1253.5 185.5L1254 150.3L1254.5 186.9L1255 134.6L1255.5 207.4L1256 151.1L1256.5 189.4L1257 152.8L1257.5 188.8L1258 151.4L1258.5 185.6L1259 152.1L1259.5 188L1260 153L1260.5 184L1261 154.4L1261.5 183L1262 154.8L1262.5 180.7L1263 156.3L1263.5 180.1L1264 154.7L1264.5 179.6L1265 156.8L1265.5 177.8L1266 155.8L1266.5 177.6L1267 155.3L1267.5 179.3L1268 154.9L1268.5 178L1269 156.8L1269.5 178.3L1270 155.8L1270.5 182.9L1271 151.5L1271.5 178.4L1272 156.7L1272.5 179.5L1273 156L1273.5 177.5L1274 155.3L1274.5 179.3L1275 156.7L1275.5 177.8L1276 155.4L1276.5 178.2L1277 155.1L1277.5 178.3L1278 155L1278.5 178.4L1279 152.3L1279.5 179.8L1280 155.1L1280.5 179L1281 153.5L1281.5 179.4L1282 154.5L1282.5 177.7L1283 156.6L1283.5 177.4L1284 156.5L1284.5 177.8L1285 155.2L1285.5 178.1L1286 156.5L1286.5 178.1L1287 149.9L1287.5 192.5L1288 148.7L1288.5 203.7L1289 144.1L1289.5 193L1290 126.4L1290.5 213.8L1291 142.3L1291.5 202.3L1292 141.2L1292.5 193.1L1293 141.5L1293.5 203.6L1294 132.8L1294.5 220.2L1295 142.3L1295.5 211L1296 146.1L1296.5 197.8L1297 132.8L1297.5 214.7L1298 148.9L1298.5 188.9L1299 152.1L1299.5 194.2L1300 152.4L1300.5 191.6L1301 153.9L1301.5 185.2" fill="none" stroke="#0b0b0b" stroke-width="1.45" stroke-linejoin="bevel"/>
<rect x="1313.7" y="158.4" width="272.5" height="19.8" fill="#0b0b0b"/>
<path d="M1314.1 157.7L1314.1 157.7L1314.6 179.1L1315.1 157.6L1315.6 178.4L1316.1 157.5L1316.6 178.8L1317.1 157L1317.6 179.1L1318.1 157.5L1318.6 178.7L1319.1 157.4L1319.6 179.5L1320.1 155.1L1320.6 181.3L1321.1 153.3L1321.6 179.3L1322.1 157.9L1322.6 181.9L1323.1 158.3L1323.6 178.7L1324.1 156.9L1324.6 180.5L1325.1 157.6L1325.6 183.8L1326.1 156.1L1326.6 179.6L1327.1 157.9L1327.6 178.6L1328.1 157.3L1328.6 182.3L1329.1 158.2L1329.6 180.9L1330.1 157.6L1330.6 183.6L1331.1 157.4L1331.6 178.8L1332.1 157.8L1332.6 178.4L1333.1 157.2L1333.6 179.1L1334.1 156.9L1334.6 179.3L1335.1 153.6L1335.6 185.2L1336.1 155.9L1336.6 179.3L1337.1 157.6L1337.6 182.4L1338.1 157.4L1338.6 178.6L1339.1 157.4L1339.6 180.2L1340.1 156.9L1340.6 179.9L1341.1 158.3L1341.6 180.6L1342.1 156.5L1342.6 180.7L1343.1 155.9L1343.6 180.1L1344.1 158.1L1344.6 178.4L1345.1 157.9L1345.6 178.7L1346.1 156L1346.6 179.1L1347.1 156.6L1347.6 178.5L1348.1 157.6L1348.6 178.9L1349.1 158L1349.6 180.7L1350.1 157.2L1350.6 178.4L1351.1 157.7L1351.6 179.1L1352.1 148.8L1352.6 187.8L1353.1 142.1L1353.6 184.3L1354.1 147.3L1354.6 188L1355.1 130.1L1355.6 207.4L1356.1 143.8L1356.6 185.8L1357.1 142.1L1357.6 186.5L1358.1 143L1358.6 186.1L1359.1 143.1L1359.6 190.9L1360.1 140.1L1360.6 196.5L1361.1 144.8L1361.6 186.4L1362.1 136.1L1362.6 215.6L1363.1 144.8L1363.6 186.5L1364.1 146.3L1364.6 183.8L1365.1 151.6L1365.6 184.9L1366.1 152.3L1366.6 185L1367.1 152.8L1367.6 183.4L1368.1 132.8L1368.6 212L1369.1 154.9L1369.6 181.2L1370.1 158.3L1370.6 178.4L1371.1 156.9L1371.6 178.9L1372.1 158.1L1372.6 178.2L1373.1 158.3L1373.6 179.9L1374.1 156.7L1374.6 178.4L1375.1 155.2L1375.6 180.6L1376.1 157.9L1376.6 179.9L1377.1 156.4L1377.6 179L1378.1 157.7L1378.6 181.8L1379.1 156.2L1379.6 180.4L1380.1 157.1L1380.6 178.3L1381.1 157L1381.6 178.5L1382.1 156.3L1382.6 181L1383.1 157.3L1383.6 178.6L1384.1 157.5L1384.6 178.7L1385.1 157.2L1385.6 180.4L1386.1 158L1386.6 180.9L1387.1 157.8L1387.6 181.1L1388.1 157.4L1388.6 179.7L1389.1 156.9L1389.6 179.1L1390.1 157.9L1390.6 180.2L1391.1 158L1391.6 180.5L1392.1 158.1L1392.6 181.6L1393.1 158.2L1393.6 178.5L1394.1 157.7L1394.6 180.2L1395.1 157.1L1395.6 178.9L1396.1 156.9L1396.6 179.5L1397.1 156.8L1397.6 178.7L1398.1 157.8L1398.6 178.4L1399.1 158L1399.6 180L1400.1 157.5L1400.6 180L1401.1 157.8L1401.6 178.3L1402.1 158.1L1402.6 178.5L1403.1 154L1403.6 179.3L1404.1 157.2L1404.6 178.4L1405.1 156.8L1405.6 179.2L1406.1 158.2L1406.6 178.4L1407.1 158.2L1407.6 179L1408.1 156L1408.6 179.1L1409.1 157L1409.6 178.3L1410.1 150.7L1410.6 182.1L1411.1 145.7L1411.6 187.1L1412.1 140.4L1412.6 187.6L1413.1 124.1L1413.6 225.6L1414.1 144.4L1414.6 191.1L1415.1 147.2L1415.6 192.6L1416.1 138.3L1416.6 205.6L1417.1 147.3L1417.6 188L1418.1 147.1L1418.6 193L1419.1 145.1L1419.6 191.7L1420.1 140.1L1420.6 196.5L1421.1 142.8L1421.6 188.6L1422.1 148.8L1422.6 189.9L1423.1 151L1423.6 186.5L1424.1 140.1L1424.6 215.6L1425.1 152.1L1425.6 185.5L1426.1 152.8L1426.6 186.5L1427.1 154.6L1427.6 181.7L1428.1 155.2L1428.6 181.9L1429.1 157.9L1429.6 179.7L1430.1 158.4L1430.6 179.7L1431.1 153.3L1431.6 179.5L1432.1 157.7L1432.6 180.4L1433.1 155.5L1433.6 178.2L1434.1 156.4L1434.6 182.2L1435.1 156.9L1435.6 179.5L1436.1 158L1436.6 178.2L1437.1 158L1437.6 179.1L1438.1 157.7L1438.6 178.3L1439.1 157.2L1439.6 181.1L1440.1 156.4L1440.6 180.6L1441.1 152.2L1441.6 180.2L1442.1 157.1L1442.6 178.4L1443.1 157.6L1443.6 180.2L1444.1 156.3L1444.6 178.8L1445.1 156.2L1445.6 179.4L1446.1 156.8L1446.6 178.6L1447.1 150.6L1447.6 179.7L1448.1 157.5L1448.6 179.2L1449.1 158.3L1449.6 178.4L1450.1 156.1L1450.6 178.3L1451.1 154.3L1451.6 178.5L1452.1 157.9L1452.6 180L1453.1 157.1L1453.6 180.4L1454.1 156.8L1454.6 178.4L1455.1 157.3L1455.6 178.8L1456.1 157.4L1456.6 179.1L1457.1 158.1L1457.6 179.7L1458.1 156.9L1458.6 179.6L1459.1 157.2L1459.6 179.5L1460.1 157.8L1460.6 180.3L1461.1 156.6L1461.6 179.3L1462.1 158.2L1462.6 178.7L1463.1 157.1L1463.6 178.7L1464.1 158.3L1464.6 179.8L1465.1 157.4L1465.6 179.6L1466.1 154.9L1466.6 178.2L1467.1 157.7L1467.6 180.5L1468.1 155.4L1468.6 179.3L1469.1 157.1L1469.6 179.8L1470.1 152L1470.6 179.8L1471.1 151.4L1471.6 178.3L1472.1 150.5L1472.6 184.6L1473.1 144.8L1473.6 184.1L1474.1 137.3L1474.6 215.1L1475.1 142.2L1475.6 186.3L1476.1 145.4L1476.6 184.1L1477.1 141.3L1477.6 187.5L1478.1 144.1L1478.6 189.8L1479.1 132.8L1479.6 207.4L1480.1 144.6L1480.6 186.3L1481.1 143.8L1481.6 188.4L1482.1 129.5L1482.6 234.4L1483.1 143.1L1483.6 188L1484.1 148.7L1484.6 190.1L1485.1 148.5L1485.6 186.7L1486.1 142.6L1486.6 185.9L1487.1 143L1487.6 189.6L1488.1 151.3L1488.6 185L1489.1 140.1L1489.6 192.9L1490.1 151.6L1490.6 186.6L1491.1 150.3L1491.6 185.8L1492.1 140.1L1492.6 213.8L1493.1 152.6L1493.6 183L1494.1 154L1494.6 181.3L1495.1 155L1495.6 182.2L1496.1 154.9L1496.6 180.1L1497.1 158.1L1497.6 179.2L1498.1 156.3L1498.6 179.8L1499.1 158.4L1499.6 178.5L1500.1 156.8L1500.6 181.9L1501.1 157.1L1501.6 180.6L1502.1 156.3L1502.6 179.7L1503.1 157.1L1503.6 178.3L1504.1 158.1L1504.6 180.3L1505.1 157.9L1505.6 180.7L1506.1 157.1L1506.6 179.1L1507.1 155.7L1507.6 183.4L1508.1 156.6L1508.6 179.5L1509.1 158.2L1509.6 179.6L1510.1 155.8L1510.6 179L1511.1 157.7L1511.6 178.7L1512.1 157L1512.6 178.4L1513.1 157.4L1513.6 182.6L1514.1 155.9L1514.6 179.3L1515.1 158.1L1515.6 178.9L1516.1 157.8L1516.6 179.3L1517.1 157.1L1517.6 179.4L1518.1 157.6L1518.6 178.7L1519.1 157.2L1519.6 178.3L1520.1 158.1L1520.6 179L1521.1 157.4L1521.6 178.5L1522.1 156.5L1522.6 178.6L1523.1 157.2L1523.6 179.9L1524.1 158.1L1524.6 180.5L1525.1 158.2L1525.6 179.5L1526.1 157.2L1526.6 180.2L1527.1 157L1527.6 181.4L1528.1 158.3L1528.6 178.3L1529.1 158.3L1529.6 180L1530.1 156.6L1530.6 179.8L1531.1 155.7L1531.6 179L1532.1 157.5L1532.6 178.5L1533.1 157.3L1533.6 179.3L1534.1 157.5L1534.6 178.9L1535.1 157.8L1535.6 180.2L1536.1 158.1L1536.6 180.7L1537.1 148.8L1537.6 194.6L1538.1 142.3L1538.6 199.3L1539.1 138.3L1539.6 211.1L1540.1 148.7L1540.6 189.3L1541.1 150.7L1541.6 190.4L1542.1 122.2L1542.6 256.2L1543.1 150.7L1543.6 191.3L1544.1 144.9L1544.6 194.6L1545.1 151.6L1545.6 191.6L1546.1 149L1546.6 194.6L1547.1 151.5L1547.6 191.1L1548.1 150.8L1548.6 192.2L1549.1 151.2L1549.6 186.5L1550.1 151L1550.6 185.8L1551.1 145.5L1551.6 204.7L1552.1 154.5L1552.6 186.2L1553.1 153L1553.6 188.9L1554.1 155.2L1554.6 184.1L1555.1 145.5L1555.6 196.5L1556.1 155.9L1556.6 186.4L1557.1 156.6L1557.6 184.5L1558.1 157L1558.6 183L1559.1 156.5L1559.6 178.5L1560.1 155.1L1560.6 180.8L1561.1 157.1L1561.6 181.7L1562.1 154.9L1562.6 178.9L1563.1 157.4L1563.6 179.2L1564.1 157.6L1564.6 179.6L1565.1 154.3L1565.6 178.9L1566.1 157.6L1566.6 182L1567.1 157.3L1567.6 178.3L1568.1 156.5L1568.6 179L1569.1 158.2L1569.6 179.7L1570.1 158L1570.6 180.1L1571.1 157L1571.6 178.4L1572.1 158.3L1572.6 179.9L1573.1 158.1L1573.6 178.5L1574.1 151.4L1574.6 180.5L1575.1 156.2L1575.6 178.3L1576.1 157.6L1576.6 178.5L1577.1 157.9L1577.6 181L1578.1 157.6L1578.6 179.2L1579.1 156.1L1579.6 183.2L1580.1 156.3L1580.6 178.5L1581.1 158.2L1581.6 180.9L1582.1 155.4L1582.6 178.5L1583.1 156.9L1583.6 180.2L1584.1 157.8L1584.6 179.1L1585.1 156.7L1585.6 180.3" fill="none" stroke="#0b0b0b" stroke-width="1.45" stroke-linejoin="bevel"/>
<rect x="172.4" y="392.4" width="272.5" height="17.7" fill="#0b0b0b"/>
<path d="M172.8 382.8L172.8 382.8L173.3 439.3L173.8 388L174.3 415.7L174.8 388.1L175.3 419.6L175.8 388.9L176.3 417.7L176.8 390L177.3 415.6L177.8 387.4L178.3 423.8L178.8 390.1L179.3 414.5L179.8 390.5L180.3 416.6L180.8 390.6L181.3 413.6L181.8 391.1L182.3 413.2L182.8 389.8L183.3 410.1L183.8 388.5L184.3 410.4L184.8 391.6L185.3 412.8L185.8 391L186.3 410.6L186.8 380.7L187.3 430.4L187.8 371L188.3 448.4L188.8 374.7L189.3 423.1L189.8 374L190.3 431.8L190.8 377.1L191.3 428.4L191.8 363.7L192.3 442L192.8 372.2L193.3 425.8L193.8 379.6L194.3 429.4L194.8 365.5L195.3 452.9L195.8 372.8L196.3 422.4L196.8 374.3L197.3 430.5L197.8 376.1L198.3 429.2L198.8 378.7L199.3 419.7L199.8 375.5L200.3 442.9L200.8 380.1L201.3 422.5L201.8 384.6L202.3 420.3L202.8 387.9L203.3 417.6L203.8 387.6L204.3 413.9L204.8 388.7L205.3 414.9L205.8 392.2L206.3 412L206.8 391.4L207.3 411.4L207.8 392L208.3 412.7L208.8 390.4L209.3 413.1L209.8 392.2L210.3 410.8L210.8 392.2L211.3 412.5L211.8 391.1L212.3 413L212.8 391.9L213.3 410.1L213.8 391.9L214.3 410.5L214.8 391.4L215.3 410.5L215.8 392L216.3 411.3L216.8 389.5L217.3 410.5L217.8 390.8L218.3 412.5L218.8 388.8L219.3 412.9L219.8 390.1L220.3 410.9L220.8 386.1L221.3 416.6L221.8 391.1L222.3 411.7L222.8 392L223.3 413.9L223.8 391.8L224.3 410.7L224.8 390.3L225.3 411.5L225.8 392.2L226.3 411.3L226.8 385.6L227.3 411.7L227.8 390.1L228.3 410.5L228.8 382.5L229.3 422.8L229.8 382.7L230.3 434.7L230.8 355.2L231.3 516.6L231.8 373.8L232.3 424.2L232.8 381.8L233.3 422.4L233.8 372.8L234.3 462L234.8 385.8L235.3 431.9L235.8 383.7L236.3 429.7L236.8 376.5L237.3 442L237.8 384.1L238.3 429.1L238.8 387.5L239.3 427.2L239.8 369.2L240.3 445.6L240.8 388.3L241.3 417.7L241.8 390.8L242.3 413.9L242.8 391.1L243.3 412.4L243.8 390.1L244.3 410.3L244.8 389.4L245.3 411.1L245.8 392.1L246.3 412.5L246.8 389.8L247.3 410.5L247.8 388.9L248.3 411.7L248.8 389.2L249.3 410.9L249.8 391.9L250.3 411L250.8 386.7L251.3 410.5L251.8 392.2L252.3 410.7L252.8 389.9L253.3 411.2L253.8 390.1L254.3 410.3L254.8 390.2L255.3 412.4L255.8 391.5L256.3 412L256.8 388.7L257.3 410.7L257.8 392L258.3 412.4L258.8 390.9L259.3 410.4L259.8 392.3L260.3 410.5L260.8 390L261.3 411.4L261.8 388.8L262.3 419.4L262.8 380.9L263.3 427.6L263.8 345.5L264.3 454.4L264.8 383.5L265.3 420L265.8 382.8L266.3 428.1L266.8 379.6L267.3 427.5L267.8 384.2L268.3 422.3L268.8 380.1L269.3 443.8L269.8 381.2L270.3 424L270.8 385L271.3 429L271.8 380.1L272.3 443.8L272.8 385.9L273.3 427L273.8 383.3L274.3 417.5L274.8 381.9L275.3 436.5L275.8 386.4L276.3 417.3L276.8 388.2L277.3 415.6L277.8 390L278.3 412.7L278.8 391.7L279.3 411.1L279.8 391.6L280.3 411.8L280.8 392.1L281.3 410.4L281.8 391.1L282.3 410.7L282.8 391.6L283.3 413.2L283.8 390.4L284.3 411.6L284.8 391.5L285.3 410.3L285.8 392.4L286.3 410.4L286.8 390L287.3 411.3L287.8 391.3L288.3 410.1L288.8 390.8L289.3 410.4L289.8 391.5L290.3 410.8L290.8 391.3L291.3 412.3L291.8 389.7L292.3 411.6L292.8 392.1L293.3 412.6L293.8 392L294.3 411.3L294.8 389.7L295.3 410.5L295.8 391.8L296.3 410.2L296.8 383.4L297.3 421.5L297.8 355.5L298.3 474.2L298.8 383.6L299.3 423.3L299.8 387.1L300.3 420L300.8 381.9L301.3 431.1L301.8 386.7L302.3 420.9L302.8 387.2L303.3 420.7L303.8 382.8L304.3 438.3L304.8 389L305.3 417.1L305.8 390.4L306.3 415.3L306.8 390.4L307.3 417.7L307.8 391.3L308.3 412.4L308.8 392.3L309.3 410.4L309.8 390.1L310.3 412.3L310.8 392.3L311.3 410.8L311.8 390.6L312.3 414.6L312.8 390.5L313.3 410.4L313.8 389.9L314.3 413.3L314.8 391.7L315.3 413.2L315.8 390.5L316.3 410.6L316.8 391.6L317.3 410.5L317.8 391.9L318.3 412.3L318.8 390.1L319.3 413.1L319.8 392.2L320.3 411L320.8 390.8L321.3 410.8L321.8 390.9L322.3 410.9L322.8 390.7L323.3 413.4L323.8 391L324.3 411.1L324.8 389.6L325.3 414.3L325.8 389.8L326.3 410.6L326.8 391.9L327.3 411.4L327.8 388.8L328.3 410.1L328.8 390.7L329.3 411.2L329.8 391.5L330.3 411.9L330.8 377.3L331.3 422.2L331.8 357.3L332.3 462.6L332.8 385.2L333.3 422.6L333.8 380.2L334.3 422.1L334.8 384.2L335.3 432.3L335.8 366.4L336.3 454.4L336.8 385L337.3 425.8L337.8 387L338.3 423.9L338.8 389.1L339.3 419.6L339.8 389.7L340.3 416.7L340.8 388.3L341.3 414.9L341.8 390.4L342.3 411.7L342.8 391.1L343.3 411.8L343.8 389.3L344.3 417.1L344.8 391.7L345.3 411.8L345.8 391.6L346.3 410.4L346.8 391.8L347.3 413.5L347.8 389.9L348.3 410.9L348.8 392.2L349.3 410.6L349.8 391.5L350.3 410.2L350.8 392L351.3 410.6L351.8 390.9L352.3 410.6L352.8 389.8L353.3 410.1L353.8 386L354.3 410.2L354.8 392.1L355.3 410.2L355.8 384.3L356.3 410.3L356.8 391.4L357.3 410.7L357.8 391.4L358.3 411L358.8 391L359.3 414.2L359.8 385.9L360.3 410.6L360.8 391.9L361.3 413.8L361.8 391L362.3 411.5L362.8 391.3L363.3 411.4L363.8 386.4L364.3 418.7L364.8 375.7L365.3 424.4L365.8 341L366.3 481.7L366.8 381.4L367.3 423L367.8 381L368.3 428L368.8 376.5L369.3 440.2L369.8 380.4L370.3 421L370.8 381.7L371.3 421.8L371.8 376.5L372.3 427.4L372.8 384.2L373.3 421.5L373.8 385.7L374.3 418.1L374.8 387.3L375.3 417.2L375.8 386L376.3 418.6L376.8 390.1L377.3 417L377.8 389.9L378.3 417L378.8 390.1L379.3 411.7L379.8 388.1L380.3 410.2L380.8 390.7L381.3 412.8L381.8 391.7L382.3 414.1L382.8 390.9L383.3 412.9L383.8 391.3L384.3 413L384.8 390.4L385.3 411.6L385.8 390.8L386.3 410.9L386.8 391.5L387.3 410.6L387.8 391.8L388.3 416.8L388.8 388.6L389.3 410.2L389.8 392L390.3 411.1L390.8 391.6L391.3 410.2L391.8 390.6L392.3 410.8L392.8 391.7L393.3 415.2L393.8 391.1L394.3 416.2L394.8 392.1L395.3 413L395.8 391.8L396.3 414.9L396.8 391.6L397.3 415.7L397.8 390.3L398.3 415.1L398.8 391.2L399.3 412.3L399.8 383.8L400.3 420.7L400.8 361L401.3 450.7L401.8 376.5L402.3 424.5L402.8 375.9L403.3 424.6L403.8 376.5L404.3 434.7L404.8 382.8L405.3 422L405.8 380.2L406.3 420.3L406.8 381.5L407.3 424.7L407.8 376.5L408.3 436.2L408.8 382.9L409.3 420.8L409.8 383.8L410.3 421.8L410.8 386L411.3 419L411.8 387.4L412.3 417.8L412.8 389.5L413.3 414.3L413.8 390.9L414.3 411.2L414.8 386.7L415.3 412.9L415.8 391.7L416.3 414.6L416.8 392.2L417.3 411.8L417.8 391.8L418.3 410.1L418.8 392.1L419.3 413.2L419.8 390.3L420.3 410.4L420.8 391.8L421.3 414.7L421.8 391.7L422.3 412.8L422.8 391.3L423.3 411.9L423.8 391L424.3 410.3L424.8 392.3L425.3 411.9L425.8 388.2L426.3 410.2L426.8 391.7L427.3 412.2L427.8 392.1L428.3 411.6L428.8 392L429.3 412.5L429.8 390.2L430.3 410.9L430.8 391.1L431.3 410.8L431.8 391.7L432.3 410.1L432.8 386.4L433.3 415L433.8 378.5L434.3 418.9L434.8 381.2L435.3 421.4L435.8 383.8L436.3 422.2L436.8 347.3L437.3 475.1L437.8 375.8L438.3 425.4L438.8 379.9L439.3 425.9L439.8 372.8L440.3 442.9L440.8 379.6L441.3 417L441.8 381L442.3 416.1L442.8 375.5L443.3 431.1L443.8 386.2L444.3 415.4" fill="none" stroke="#0b0b0b" stroke-width="1.45" stroke-linejoin="bevel"/>
<rect x="456.7" y="391.1" width="272.3" height="20.8" fill="#0b0b0b"/>
<path d="M457.1 387.9L457.1 387.9L457.6 412.8L458.1 381.9L458.6 435.6L459.1 381.6L459.6 430.6L460.1 384.9L460.6 420.8L461.1 379.9L461.6 426L462.1 384.4L462.6 427.1L463.1 384.5L463.6 425.7L464.1 381.9L464.6 424.9L465.1 386.8L465.6 421.3L466.1 365.5L466.6 456.6L467.1 386.3L467.6 431.1L468.1 381.7L468.6 421.6L469.1 372.8L469.6 443.8L470.1 382.1L470.6 417.5L471.1 385.2L471.6 417.9L472.1 368.3L472.6 450.2L473.1 386.9L473.6 422.8L474.1 383.1L474.6 427.4L475.1 387.4L475.6 426.6L476.1 384.7L476.6 429.1L477.1 386.8L477.6 426.2L478.1 386.3L478.6 425.6L479.1 381.8L479.6 418.2L480.1 380.4L480.6 419.3L481.1 382.2L481.6 419.4L482.1 382.8L482.6 428.8L483.1 385.2L483.6 417.5L484.1 369.2L484.6 447.5L485.1 387.1L485.6 423.9L486.1 384L486.6 420.5L487.1 386L487.6 430.5L488.1 385.8L488.6 430.7L489.1 381.7L489.6 419.4L490.1 372.8L490.6 454.4L491.1 384.5L491.6 420.7L492.1 385.1L492.6 423.4L493.1 383.7L493.6 420.1L494.1 364.1L494.6 438.3L495.1 385L495.6 426.6L496.1 387.1L496.6 421.7L497.1 386L497.6 417.6L498.1 380.1L498.6 438.3L499.1 381.7L499.6 424.1L500.1 385.7L500.6 418L501.1 385.7L501.6 418.6L502.1 386.5L502.6 422.4L503.1 387.2L503.6 426.4L504.1 384.7L504.6 425.9L505.1 380.1L505.6 431.1L506.1 387.2L506.6 424.4L507.1 383.2L507.6 418.3L508.1 378.3L508.6 434.7L509.1 384.8L509.6 430.5L510.1 382L510.6 422.2L511.1 386.2L511.6 416.7L512.1 388.3L512.6 417.3L513.1 390L513.6 412.9L514.1 390.7L514.6 416.2L515.1 389.8L515.6 412.2L516.1 390.3L516.6 412.7L517.1 390.1L517.6 414.1L518.1 389.6L518.6 416.1L519.1 390.2L519.6 414.1L520.1 386.6L520.6 413.1L521.1 390.5L521.6 413L522.1 390.2L522.6 411.9L523.1 390.5L523.6 412.5L524.1 385L524.6 412.2L525.1 385.6L525.6 439.8L526.1 388.7L526.6 412.3L527.1 389.2L527.6 413.5L528.1 390.8L528.6 413.4L529.1 390.5L529.6 415.6L530.1 384.6L530.6 423.4L531.1 379.5L531.6 433.9L532.1 382.4L532.6 430.7L533.1 352.4L533.6 462.6L534.1 384.6L534.6 434.7L535.1 383.5L535.6 430.2L536.1 384.2L536.6 430.5L537.1 384.8L537.6 431.3L538.1 376.5L538.6 443.8L539.1 385.8L539.6 429.2L540.1 384.5L540.6 425.3L541.1 371L541.6 438.3L542.1 387.9L542.6 419.9L543.1 386.8L543.6 420.3L544.1 387.9L544.6 420.9L545.1 379.2L545.6 453.5L546.1 388.9L546.6 419.8L547.1 389.6L547.6 417.4L548.1 385.2L548.6 413.9L549.1 389.6L549.6 412.2L550.1 389.7L550.6 412L551.1 390.1L551.6 412L552.1 389.3L552.6 414.8L553.1 391L553.6 415.3L554.1 390.9L554.6 413.7L555.1 390.8L555.6 414.5L556.1 390.4L556.6 411.9L557.1 389.1L557.6 414.3L558.1 386.6L558.6 414.3L559.1 389.3L559.6 414.3L560.1 389.7L560.6 414.8L561.1 386.7L561.6 412.9L562.1 390.4L562.6 411.9L563.1 390.5L563.6 413.5L564.1 384.7L564.6 412.4L565.1 387.4L565.6 413.1L566.1 388.5L566.6 412.9L567.1 386.5L567.6 412.1L568.1 390.7L568.6 412L569.1 389.9L569.6 412.4L570.1 382.4L570.6 432.5L571.1 349.2L571.6 469.3L572.1 381.5L572.6 424.7L573.1 381.8L573.6 426.3L574.1 372.8L574.6 438.3L575.1 383.9L575.6 426.5L576.1 384L576.6 425.8L577.1 387.7L577.6 423.8L578.1 378.3L578.6 444.7L579.1 389.1L579.6 417.7L580.1 389.4L580.6 416.9L581.1 389.2L581.6 413.9L582.1 388.1L582.6 412.9L583.1 390.7L583.6 413.6L584.1 391.1L584.6 412.1L585.1 390.9L585.6 412.2L586.1 387.8L586.6 412.4L587.1 390.4L587.6 412.3L588.1 386.1L588.6 413.1L589.1 390.9L589.6 412.3L590.1 389L590.6 414.6L591.1 389.8L591.6 412.9L592.1 389.9L592.6 412.8L593.1 390.9L593.6 412.7L594.1 390.6L594.6 414.1L595.1 389L595.6 414L596.1 389.6L596.6 412.7L597.1 389.1L597.6 412L598.1 390.1L598.6 411.9L599.1 389.6L599.6 413.7L600.1 388.8L600.6 412.7L601.1 390L601.6 412.5L602.1 387.8L602.6 415.6L603.1 383.8L603.6 412.1L604.1 389.6L604.6 413L605.1 390.8L605.6 412.6L606.1 390.9L606.6 412.5L607.1 390.2L607.6 412.3L608.1 387.5L608.6 416.9L609.1 376.2L609.6 433.2L610.1 312.4L610.6 516.6L611.1 377L611.6 427.5L612.1 378.7L612.6 427.3L613.1 383.9L613.6 431.4L614.1 384.2L614.6 429L615.1 384.4L615.6 426.4L616.1 372.8L616.6 480.2L617.1 386.2L617.6 423L618.1 385.3L618.6 421L619.1 372.8L619.6 442L620.1 389.4L620.6 415.4L621.1 390.3L621.6 412.8L622.1 387.9L622.6 412.6L623.1 389.9L623.6 412.8L624.1 389.4L624.6 412.5L625.1 390.5L625.6 412.9L626.1 390.8L626.6 412L627.1 388.6L627.6 413.6L628.1 389.1L628.6 412L629.1 391.1L629.6 412.1L630.1 386.5L630.6 413.1L631.1 387.5L631.6 412.3L632.1 390.7L632.6 414.1L633.1 390.9L633.6 414.5L634.1 388.5L634.6 414.8L635.1 390.3L635.6 412.5L636.1 385.4L636.6 412.5L637.1 388.7L637.6 413L638.1 388.3L638.6 412.7L639.1 386.1L639.6 414.2L640.1 387.4L640.6 412.6L641.1 388.6L641.6 412.5L642.1 388.3L642.6 412.9L643.1 390.3L643.6 412.2L644.1 389.3L644.6 414.5L645.1 387.9L645.6 413.3L646.1 375.9L646.6 427L647.1 379.6L647.6 428.8L648.1 325.5L648.6 502.4L649.1 383.2L649.6 427.8L650.1 380.8L650.6 432L651.1 381.7L651.6 425.5L652.1 375.5L652.6 454.7L653.1 383.7L653.6 425.8L654.1 386.5L654.6 421.1L655.1 385.9L655.6 418.5L656.1 381.9L656.6 431.1L657.1 388.7L657.6 417L658.1 389.4L658.6 415.1L659.1 389L659.6 416.6L660.1 388.6L660.6 413.3L661.1 390.4L661.6 413L662.1 390.1L662.6 412.4L663.1 390.7L663.6 414.6L664.1 387.7L664.6 413.6L665.1 390.4L665.6 412.9L666.1 389.1L666.6 412.2L667.1 390.6L667.6 414.8L668.1 391L668.6 412.4L669.1 389.7L669.6 412.2L670.1 389.1L670.6 411.9L671.1 389.2L671.6 413L672.1 390.4L672.6 411.9L673.1 387.2L673.6 414.2L674.1 390.2L674.6 415.3L675.1 391L675.6 412.3L676.1 390.3L676.6 413.5L677.1 388.7L677.6 412.8L678.1 390.6L678.6 415.1L679.1 390.7L679.6 413.9L680.1 389.6L680.6 413.9L681.1 390.6L681.6 412.2L682.1 389.6L682.6 412.2L683.1 390L683.6 413.5L684.1 376.6L684.6 422.2L685.1 377.6L685.6 424.9L686.1 335.5L686.6 503.9L687.1 384.4L687.6 422L688.1 383.1L688.6 423.4L689.1 384.1L689.6 421.7L690.1 384.6L690.6 420.8L691.1 377.4L691.6 438.3L692.1 385.1L692.6 418.6L693.1 386.5L693.6 420.3L694.1 380.1L694.6 434.7L695.1 389.9L695.6 415.1L696.1 390.7L696.6 413.5L697.1 390.8L697.6 411.9L698.1 389.7L698.6 415.2L699.1 387.9L699.6 412.8L700.1 390.8L700.6 412.2L701.1 390.8L701.6 413.5L702.1 390.9L702.6 414L703.1 389.7L703.6 413.3L704.1 389.6L704.6 413L705.1 389.5L705.6 413.5L706.1 391.1L706.6 412.1L707.1 390.1L707.6 412.4L708.1 391L708.6 413.2L709.1 390.6L709.6 418.2L710.1 389.3L710.6 413L711.1 389.3L711.6 412.3L712.1 388.6L712.6 412.2L713.1 390.7L713.6 412.7L714.1 390.5L714.6 412.5L715.1 390.7L715.6 412.2L716.1 390.9L716.6 412.2L717.1 390L717.6 414.1L718.1 389.6L718.6 413.2L719.1 387.3L719.6 412.1L720.1 379.6L720.6 428.3L721.1 371.7L721.6 436.8L722.1 379.5L722.6 434.7L723.1 347.3L723.6 509.3L724.1 376.6L724.6 430.8L725.1 375.8L725.6 430.1L726.1 370.1L726.6 446.5L727.1 385.1L727.6 429.5L728.1 383.7L728.6 423.8" fill="none" stroke="#0b0b0b" stroke-width="1.45" stroke-linejoin="bevel"/>
<rect x="743.1" y="391.5" width="272.3" height="18.9" fill="#0b0b0b"/>
<path d="M743.5 390.7L743.5 390.7L744 412.7L744.5 390.1L745 411.5L745.5 384.8L746 411.8L746.5 391L747 410.6L747.5 390.1L748 411.3L748.5 390.8L749 411.9L749.5 391L750 412.4L750.5 391.3L751 412.2L751.5 390.6L752 412.6L752.5 389.3L753 411.8L753.5 390.2L754 410.5L754.5 390.5L755 413.5L755.5 389.3L756 414.1L756.5 391.4L757 410.4L757.5 390.6L758 411L758.5 390.7L759 412.4L759.5 391.3L760 411.2L760.5 390.2L761 411.8L761.5 391.4L762 411.6L762.5 390.2L763 414L763.5 391.1L764 411L764.5 380L765 423.8L765.5 380.5L766 431L766.5 346.4L767 481.7L767.5 380.4L768 427.5L768.5 384L769 431.1L769.5 376L770 431.4L770.5 378.1L771 419.9L771.5 372.8L772 447.8L772.5 378.5L773 431.4L773.5 377.7L774 424.4L774.5 372.8L775 439.3L775.5 366.4L776 434.7L776.5 386.9L777 419.5L777.5 386.3L778 416L778.5 387.2L779 414L779.5 390.7L780 412L780.5 391.2L781 410.9L781.5 389.2L782 411.8L782.5 389.9L783 413.7L783.5 391.1L784 410.4L784.5 390.8L785 411.8L785.5 390.2L786 412.3L786.5 391L787 411.3L787.5 389.4L788 414.1L788.5 391L789 414.1L789.5 389L790 411.4L790.5 391.1L791 411L791.5 389.5L792 416.1L792.5 389.1L793 411.9L793.5 390.8L794 415.6L794.5 389.9L795 412.2L795.5 391.4L796 411.9L796.5 390.4L797 411.6L797.5 389.8L798 410.5L798.5 390.9L799 411.7L799.5 390.6L800 410.9L800.5 391.2L801 410.7L801.5 389.3L802 412.6L802.5 379L803 421L803.5 383.6L804 420.7L804.5 339.7L805 470.2L805.5 380.5L806 425.9L806.5 379.2L807 431.4L807.5 380.2L808 422.4L808.5 376.5L809 449.3L809.5 380.4L810 425.4L810.5 353.2L811 448.4L811.5 382.7L812 422.8L812.5 386.1L813 422.6L813.5 387.3L814 417.5L814.5 378.3L815 438.3L815.5 388.2L816 413.4L816.5 389.4L817 410.9L817.5 385.1L818 413.6L818.5 389.5L819 412.1L819.5 388.9L820 411.8L820.5 390.9L821 412.6L821.5 391.4L822 410.7L822.5 390.6L823 410.5L823.5 391.1L824 413.9L824.5 391.1L825 411.8L825.5 389.8L826 412.2L826.5 391.1L827 415.3L827.5 389.6L828 411.3L828.5 387.6L829 410.6L829.5 389.3L830 412.5L830.5 390.2L831 411.1L831.5 388.8L832 414.7L832.5 390.3L833 411.4L833.5 390.5L834 412.3L834.5 391L835 417.7L835.5 391.2L836 411.1L836.5 390.5L837 412.4L837.5 386.7L838 411.4L838.5 387.8L839 416.2L839.5 379.1L840 424.2L840.5 373.9L841 422.3L841.5 286.3L842 514.4L842.5 381.6L843 424.3L843.5 379.6L844 426.9L844.5 371.9L845 446.5L845.5 373L846 421.4L846.5 377.8L847 430.1L847.5 383.8L848 421.1L848.5 372.8L849 443.8L849.5 386.1L850 419.1L850.5 386.7L851 414.2L851.5 387.4L852 410.8L852.5 390.2L853 413.3L853.5 388.6L854 413.6L854.5 391.4L855 413.2L855.5 390.9L856 410.6L856.5 391.1L857 412.2L857.5 388.6L858 410.6L858.5 389.1L859 415.2L859.5 389L860 410.5L860.5 388.6L861 411.7L861.5 388.7L862 411.5L862.5 391.4L863 412L863.5 391.4L864 413.7L864.5 388.8L865 411.2L865.5 387.8L866 411.1L866.5 390.7L867 410.6L867.5 385.4L868 411.2L868.5 390.8L869 410.7L869.5 391.1L870 412.2L870.5 390.2L871 412.9L871.5 391.3L872 413.4L872.5 389.1L873 410.4L873.5 389.2L874 411.7L874.5 390.3L875 410.7L875.5 391.1L876 410.8L876.5 391.4L877 414.1L877.5 384.1L878 438.2L878.5 340.4L879 507.2L879.5 379.7L880 425.8L880.5 385.1L881 424L881.5 381.7L882 425.5L882.5 384.5L883 431.4L883.5 374.6L884 436.5L884.5 387.7L885 420.4L885.5 385.6L886 429.3L886.5 386.2L887 424.2L887.5 387.6L888 421.8L888.5 388.5L889 424.6L889.5 387.9L890 423.5L890.5 388.7L891 416.3L891.5 389.6L892 415.9L892.5 391.4L893 411.4L893.5 389.9L894 410.8L894.5 391.1L895 412.3L895.5 389.3L896 412.1L896.5 390.5L897 411.6L897.5 390.6L898 410.9L898.5 390.9L899 411.7L899.5 390.3L900 412.8L900.5 389.7L901 410.6L901.5 390.5L902 411.9L902.5 391.4L903 412.9L903.5 390.3L904 412.2L904.5 388.9L905 411.8L905.5 391.1L906 410.6L906.5 391.3L907 410.9L907.5 391.4L908 410.5L908.5 391.3L909 411.7L909.5 389.5L910 413.4L910.5 388.6L911 410.8L911.5 386L912 411.2L912.5 390.4L913 412.1L913.5 389.2L914 410.4L914.5 385.9L915 415.3L915.5 390.7L916 410.9L916.5 370.4L917 424.4L917.5 373.6L918 423.8L918.5 351.9L919 455.3L919.5 381.2L920 428.6L920.5 371L921 449.3L921.5 377.5L922 429L922.5 382.9L923 422.1L923.5 385.1L924 427L924.5 385.4L925 421.8L925.5 383.5L926 423.2L926.5 386.1L927 422.5L927.5 376.5L928 442.9L928.5 388.8L929 419.9L929.5 388.7L930 417.3L930.5 389.5L931 412.9L931.5 391.1L932 412.2L932.5 390.2L933 410.4L933.5 390.1L934 410.9L934.5 390L935 411.7L935.5 390.6L936 411.1L936.5 391L937 411.5L937.5 388L938 411.1L938.5 391.2L939 410.8L939.5 390.3L940 412.4L940.5 389.6L941 411.2L941.5 390.7L942 413L942.5 390.6L943 410.8L943.5 390.1L944 412L944.5 389.6L945 412.4L945.5 391.4L946 411.4L946.5 390.5L947 410.9L947.5 387.9L948 411.9L948.5 390.5L949 413.3L949.5 390.9L950 412.3L950.5 391L951 411L951.5 390.8L952 413.5L952.5 391.5L953 410.6L953.5 390.8L954 412.5L954.5 389.4L955 412.6L955.5 375.3L956 428.9L956.5 340.4L957 487.5L957.5 383.6L958 424L958.5 375.5L959 425.7L959.5 374.6L960 455.6L960.5 378.1L961 425.4L961.5 381.9L962 428.2L962.5 379.9L963 423.9L963.5 383.5L964 426.6L964.5 383.2L965 422.9L965.5 376.5L966 435.6L966.5 386.5L967 419.7L967.5 386.5L968 421L968.5 388L969 417.4L969.5 375L970 439.8L970.5 390.1L971 413.2L971.5 388.7L972 411.1L972.5 390.8L973 411.1L973.5 390.3L974 411L974.5 390.3L975 412.8L975.5 389.8L976 410.9L976.5 388L977 412.4L977.5 391.3L978 411.7L978.5 385.4L979 413.3L979.5 390.4L980 412.1L980.5 390.1L981 411.4L981.5 391.1L982 412.8L982.5 390L983 411.7L983.5 391.4L984 411L984.5 389.4L985 414.4L985.5 391.4L986 412L986.5 390.9L987 412.3L987.5 390.9L988 410.7L988.5 391.2L989 411L989.5 388.7L990 414.3L990.5 378.3L991 425L991.5 373.6L992 435.2L992.5 377.2L993 432.9L993.5 380L994 424.9L994.5 332.4L995 461.1L995.5 377.8L996 425.8L996.5 382.3L997 431.5L997.5 385.2L998 430.4L998.5 379.5L999 418.9L999.5 372.8L1000 442L1000.5 385.9L1001 425.9L1001.5 384.1L1002 418.5L1002.5 386L1003 421.5L1003.5 376.5L1004 437.4L1004.5 387.2L1005 418.9L1005.5 387.6L1006 417.5L1006.5 389.3L1007 416L1007.5 389.1L1008 413.2L1008.5 388.3L1009 410.8L1009.5 386.8L1010 411.7L1010.5 389.6L1011 412.5L1011.5 391.4L1012 411.2L1012.5 390.6L1013 410.8L1013.5 390.7L1014 412.2L1014.5 390.9L1015 410.5" fill="none" stroke="#0b0b0b" stroke-width="1.45" stroke-linejoin="bevel"/>
<rect x="1029.6" y="392.4" width="272.1" height="18" fill="#0b0b0b"/>
<path d="M1030 376.7L1030 376.7L1030.5 431.4L1031 381.9L1031.5 435.7L1032 374.6L1032.5 438.3L1033 381.2L1033.5 421L1034 382.8L1034.5 432L1035 374.3L1035.5 435.6L1036 386.9L1036.5 424.1L1037 381.9L1037.5 440.2L1038 389.4L1038.5 423.9L1039 389.9L1039.5 415.8L1040 390.4L1040.5 414.8L1041 391.2L1041.5 412.6L1042 391.6L1042.5 412.1L1043 392L1043.5 412L1044 389.6L1044.5 410.6L1045 391.8L1045.5 411.4L1046 390.7L1046.5 411.1L1047 391.6L1047.5 411.1L1048 390.2L1048.5 411.6L1049 390.5L1049.5 411.7L1050 392.1L1050.5 411.3L1051 389.6L1051.5 411.7L1052 391.8L1052.5 411.4L1053 392.1L1053.5 412.8L1054 390.3L1054.5 411.2L1055 392.1L1055.5 413.9L1056 392.2L1056.5 411.1L1057 386.8L1057.5 412.3L1058 391.3L1058.5 412.4L1059 392.2L1059.5 415.7L1060 390.4L1060.5 411.7L1061 390L1061.5 412.2L1062 390.3L1062.5 411.2L1063 392.3L1063.5 410.8L1064 391L1064.5 411.8L1065 392.4L1065.5 412.3L1066 391.5L1066.5 412.3L1067 381.4L1067.5 422.8L1068 354.2L1068.5 478.4L1069 381L1069.5 439.7L1070 382.1L1070.5 439.8L1071 382.7L1071.5 434.2L1072 373.6L1072.5 438.2L1073 367.4L1073.5 453.8L1074 383.7L1074.5 425.3L1075 362.4L1075.5 443.8L1076 384.5L1076.5 432.5L1077 385.3L1077.5 430.1L1078 386.7L1078.5 430.4L1079 386.1L1079.5 420.6L1080 376.5L1080.5 443.8L1081 386.8L1081.5 419.8L1082 387.2L1082.5 418.9L1083 389.8L1083.5 419.9L1084 390.8L1084.5 413.9L1085 390.6L1085.5 411.3L1086 390.6L1086.5 411.4L1087 390L1087.5 412.1L1088 391.4L1088.5 412.5L1089 392.1L1089.5 411.3L1090 391.8L1090.5 410.9L1091 391.1L1091.5 412.9L1092 391.8L1092.5 411.9L1093 391.1L1093.5 415L1094 392.3L1094.5 412.5L1095 390.2L1095.5 410.9L1096 387.9L1096.5 412.8L1097 386.4L1097.5 413.8L1098 391.1L1098.5 412.3L1099 391.7L1099.5 410.9L1100 390.1L1100.5 417.5L1101 391.9L1101.5 410.4L1102 391.4L1102.5 410.6L1103 392.3L1103.5 410.6L1104 391.2L1104.5 411.9L1105 391.8L1105.5 414.9L1106 391.8L1106.5 411L1107 390.9L1107.5 410.4L1108 391.9L1108.5 410.9L1109 388.5L1109.5 411.5L1110 391.4L1110.5 411.8L1111 380.9L1111.5 425.3L1112 352.2L1112.5 463.8L1113 382.8L1113.5 439.4L1114 377L1114.5 429.1L1115 378.3L1115.5 438.3L1116 379.9L1116.5 427.3L1117 382.2L1117.5 423.5L1118 385.2L1118.5 433.4L1119 373.7L1119.5 462.6L1120 383.3L1120.5 422.8L1121 383.4L1121.5 422.8L1122 386.2L1122.5 426.5L1123 388.7L1123.5 428.8L1124 388.7L1124.5 419.8L1125 388L1125.5 424.7L1126 381.9L1126.5 436.5L1127 390.4L1127.5 417L1128 391.1L1128.5 415.2L1129 392.1L1129.5 411L1130 391.4L1130.5 412.8L1131 391.8L1131.5 411.2L1132 390.8L1132.5 410.6L1133 391.4L1133.5 411.3L1134 390.9L1134.5 410.7L1135 392.3L1135.5 412.2L1136 390.9L1136.5 410.7L1137 391.2L1137.5 411L1138 391.6L1138.5 412.4L1139 392.2L1139.5 412L1140 390.3L1140.5 412.3L1141 389.7L1141.5 410.4L1142 389.2L1142.5 411.2L1143 389.2L1143.5 411.1L1144 392.1L1144.5 412.6L1145 391.5L1145.5 411.5L1146 391.5L1146.5 412L1147 390.8L1147.5 410.9L1148 391.7L1148.5 412.5L1149 389.4L1149.5 412L1150 391.8L1150.5 411.5L1151 389.6L1151.5 412.6L1152 391.9L1152.5 412.4L1153 376.5L1153.5 430.2L1154 362.8L1154.5 452L1155 383.6L1155.5 434.4L1156 375.4L1156.5 435.4L1157 378.4L1157.5 430.4L1158 381.4L1158.5 440.8L1159 372.8L1159.5 438.3L1160 375.8L1160.5 441.2L1161 382.3L1161.5 437.5L1162 368.3L1162.5 463.8L1163 379L1163.5 428.7L1164 372.8L1164.5 445.6L1165 385.4L1165.5 418.7L1166 385.6L1166.5 422.7L1167 388.4L1167.5 418L1168 392.3L1168.5 410.9L1169 387L1169.5 411.7L1170 389.5L1170.5 411.2L1171 389.8L1171.5 410.5L1172 392.4L1172.5 410.7L1173 390.7L1173.5 412.6L1174 391.8L1174.5 412.7L1175 385.7L1175.5 411.1L1176 389.9L1176.5 410.5L1177 390.6L1177.5 415.1L1178 390.7L1178.5 412.2L1179 392.3L1179.5 413.6L1180 392L1180.5 410.7L1181 391.8L1181.5 412.7L1182 392.1L1182.5 411.3L1183 391.7L1183.5 411.9L1184 391.9L1184.5 411L1185 390.5L1185.5 414.6L1186 391.7L1186.5 411.4L1187 391.4L1187.5 410.5L1188 388.6L1188.5 411L1189 390.9L1189.5 410.9L1190 391.6L1190.5 412.7L1191 391.3L1191.5 412L1192 390.8L1192.5 411.9L1193 392.1L1193.5 412.8L1194 390.8L1194.5 412.1L1195 380.3L1195.5 432.7L1196 351L1196.5 484.8L1197 379.6L1197.5 428.8L1198 383.8L1198.5 428.3L1199 371L1199.5 436.5L1200 376.7L1200.5 434.4L1201 381.9L1201.5 428.4L1202 384.1L1202.5 425.2L1203 371.9L1203.5 458.7L1204 381.6L1204.5 424L1205 383.2L1205.5 420.3L1206 370.1L1206.5 451.1L1207 384.2L1207.5 419.3L1208 387.2L1208.5 416.9L1209 388.9L1209.5 419.7L1210 385.7L1210.5 417.2L1211 383.7L1211.5 434.7L1212 387.6L1212.5 411.7L1213 391.5L1213.5 410.9L1214 391L1214.5 415.6L1215 390.7L1215.5 411.3L1216 390.9L1216.5 410.8L1217 392.2L1217.5 410.7L1218 392.2L1218.5 413.2L1219 388.5L1219.5 411L1220 390.5L1220.5 412.8L1221 392.4L1221.5 410.7L1222 391.7L1222.5 411.8L1223 391.9L1223.5 410.7L1224 390.5L1224.5 410.7L1225 390.9L1225.5 414.3L1226 390.5L1226.5 412L1227 389.4L1227.5 411.2L1228 390.5L1228.5 410.8L1229 392.3L1229.5 411.6L1230 392.2L1230.5 412.2L1231 391.8L1231.5 412.7L1232 391.9L1232.5 410.6L1233 391.8L1233.5 410.5L1234 389.5L1234.5 411.2L1235 390.8L1235.5 410.8L1236 391.3L1236.5 411.5L1237 391.2L1237.5 412.7L1238 369.5L1238.5 431L1239 351L1239.5 480.2L1240 370.1L1240.5 433.2L1241 378.9L1241.5 432L1242 377.9L1242.5 435.5L1243 374.7L1243.5 434.1L1244 363.7L1244.5 471.1L1245 383.4L1245.5 433.9L1246 382.8L1246.5 433.1L1247 386.1L1247.5 425.6L1248 383.9L1248.5 430.8L1249 362.8L1249.5 461.1L1250 383.7L1250.5 428.3L1251 388.6L1251.5 422.2L1252 387.5L1252.5 422L1253 389.4L1253.5 421.2L1254 389.8L1254.5 416.9L1255 392.3L1255.5 411.2L1256 392.2L1256.5 414.1L1257 387.3L1257.5 411.5L1258 391.9L1258.5 410.6L1259 392L1259.5 411.3L1260 390.1L1260.5 412.7L1261 391L1261.5 411.8L1262 390.9L1262.5 410.6L1263 390.9L1263.5 412.3L1264 391.5L1264.5 413.3L1265 390.5L1265.5 411.9L1266 391.9L1266.5 410.5L1267 390.1L1267.5 415.5L1268 391.7L1268.5 410.9L1269 390.9L1269.5 411.4L1270 390L1270.5 410.4L1271 391.3L1271.5 415L1272 392.3L1272.5 410.6L1273 390.7L1273.5 411.2L1274 392L1274.5 410.8L1275 392.2L1275.5 410.8L1276 391.3L1276.5 411.1L1277 392L1277.5 411.9L1278 390.5L1278.5 410.6L1279 392.4L1279.5 411L1280 385.2L1280.5 419.1L1281 374.8L1281.5 441.3L1282 353.7L1282.5 516.6L1283 379.5L1283.5 440.4L1284 377L1284.5 423.9L1285 376.9L1285.5 427.5L1286 369.2L1286.5 464.7L1287 374L1287.5 434.5L1288 374.3L1288.5 429.6L1289 378L1289.5 430.9L1290 383.9L1290.5 423.6L1291 365.9L1291.5 462.9L1292 385.6L1292.5 420.8L1293 382.9L1293.5 420.8L1294 371L1294.5 450.2L1295 387L1295.5 425.9L1296 386.1L1296.5 422L1297 380.1L1297.5 439.3L1298 385.9L1298.5 419.9L1299 388.2L1299.5 419.9L1300 389.1L1300.5 416.2L1301 390.4L1301.5 413.9" fill="none" stroke="#0b0b0b" stroke-width="1.45" stroke-linejoin="bevel"/>
<rect x="1313.7" y="391.5" width="272.5" height="21.3" fill="#0b0b0b"/>
<path d="M1314.1 385.8L1314.1 385.8L1314.6 414.8L1315.1 379.2L1315.6 440.2L1316.1 379.8L1316.6 424.8L1317.1 379.9L1317.6 418.1L1318.1 367.7L1318.6 449.3L1319.1 382.6L1319.6 429.1L1320.1 384.9L1320.6 418.1L1321.1 366.4L1321.6 465.7L1322.1 387.2L1322.6 428L1323.1 381.5L1323.6 427.5L1324.1 383.9L1324.6 426.4L1325.1 387.7L1325.6 428.6L1326.1 383.8L1326.6 427.3L1327.1 380.1L1327.6 443.8L1328.1 385.5L1328.6 430.1L1329.1 387.5L1329.6 422.6L1330.1 387.6L1330.6 418.4L1331.1 387L1331.6 427.4L1332.1 385.9L1332.6 429.8L1333.1 387.1L1333.6 426L1334.1 376.5L1334.6 433.8L1335.1 385L1335.6 424.3L1336.1 387.7L1336.6 423.4L1337.1 384.7L1337.6 422.3L1338.1 387L1338.6 422.7L1339.1 381.7L1339.6 424.7L1340.1 386.6L1340.6 425.1L1341.1 381.1L1341.6 424.4L1342.1 382.8L1342.6 420.7L1343.1 387.4L1343.6 419.3L1344.1 387.7L1344.6 419.1L1345.1 374.6L1345.6 432.9L1346.1 380.5L1346.6 418.1L1347.1 385.1L1347.6 422L1348.1 387.7L1348.6 429.8L1349.1 384.2L1349.6 429.2L1350.1 378.3L1350.6 446.5L1351.1 383.3L1351.6 423.1L1352.1 384.4L1352.6 427.5L1353.1 367.4L1353.6 433.8L1354.1 380.7L1354.6 425.1L1355.1 384.1L1355.6 421.6L1356.1 384.4L1356.6 422L1357.1 373.2L1357.6 462.9L1358.1 389.1L1358.6 416.2L1359.1 389.7L1359.6 414.1L1360.1 391.2L1360.6 413.6L1361.1 386.2L1361.6 416.8L1362.1 390.8L1362.6 415L1363.1 391.2L1363.6 413.8L1364.1 389.3L1364.6 414.9L1365.1 389L1365.6 418.5L1366.1 390.7L1366.6 412.8L1367.1 389.6L1367.6 413.2L1368.1 390L1368.6 414.1L1369.1 388.8L1369.6 413.8L1370.1 391.1L1370.6 413L1371.1 390.8L1371.6 415.7L1372.1 390.9L1372.6 413.3L1373.1 391L1373.6 415.9L1374.1 390.5L1374.6 413.1L1375.1 390.3L1375.6 413.5L1376.1 389.4L1376.6 418.6L1377.1 391L1377.6 413.3L1378.1 391.3L1378.6 415.2L1379.1 375L1379.6 431.3L1380.1 365.5L1380.6 456.6L1381.1 379.1L1381.6 433.9L1382.1 379.1L1382.6 427.7L1383.1 375.5L1383.6 438.3L1384.1 385.1L1384.6 425.6L1385.1 384.2L1385.6 428.2L1386.1 386.2L1386.6 426.3L1387.1 387.2L1387.6 425.6L1388.1 380.1L1388.6 434.7L1389.1 390.3L1389.6 415.9L1390.1 390.8L1390.6 414.9L1391.1 389.1L1391.6 413.4L1392.1 391.1L1392.6 418.4L1393.1 388.7L1393.6 415.5L1394.1 388.8L1394.6 413.7L1395.1 391L1395.6 413.1L1396.1 389.7L1396.6 418.1L1397.1 390.3L1397.6 413.5L1398.1 390.1L1398.6 414L1399.1 390.9L1399.6 419.4L1400.1 389.3L1400.6 415L1401.1 389.5L1401.6 414.5L1402.1 390.9L1402.6 413.7L1403.1 391L1403.6 414L1404.1 389.6L1404.6 413.6L1405.1 390.4L1405.6 413.5L1406.1 388.9L1406.6 413.5L1407.1 391L1407.6 414.7L1408.1 391.1L1408.6 414.7L1409.1 391L1409.6 413.5L1410.1 391L1410.6 415.6L1411.1 389.2L1411.6 413L1412.1 388.7L1412.6 413.1L1413.1 382.2L1413.6 420.3L1414.1 384.5L1414.6 424.2L1415.1 321.8L1415.6 491.1L1416.1 381.9L1416.6 421.5L1417.1 378.3L1417.6 431.1L1418.1 385.3L1418.6 418L1419.1 387L1419.6 421.5L1420.1 387.8L1420.6 417.4L1421.1 386.2L1421.6 416.2L1422.1 390L1422.6 415.6L1423.1 384.9L1423.6 415.2L1424.1 390.4L1424.6 415L1425.1 387.5L1425.6 412.8L1426.1 389.5L1426.6 413.7L1427.1 391.2L1427.6 414.1L1428.1 391.3L1428.6 418.8L1429.1 390.1L1429.6 413.2L1430.1 391.1L1430.6 417.5L1431.1 391.2L1431.6 416.5L1432.1 391.2L1432.6 413.1L1433.1 391L1433.6 413.5L1434.1 390.7L1434.6 413.5L1435.1 391.1L1435.6 413L1436.1 389.6L1436.6 413.7L1437.1 387.2L1437.6 414.3L1438.1 391.3L1438.6 412.8L1439.1 389.4L1439.6 413.2L1440.1 389.9L1440.6 413.9L1441.1 391.5L1441.6 413.7L1442.1 390.5L1442.6 414.5L1443.1 391.3L1443.6 414.5L1444.1 390.1L1444.6 414L1445.1 387.9L1445.6 413.9L1446.1 391.1L1446.6 413.3L1447.1 388.1L1447.6 414.7L1448.1 390.8L1448.6 413.7L1449.1 386.6L1449.6 418.3L1450.1 375L1450.6 428.2L1451.1 342.2L1451.6 497.1L1452.1 383.1L1452.6 424.5L1453.1 381L1453.6 430.3L1454.1 382.1L1454.6 423.1L1455.1 383.5L1455.6 423.2L1456.1 372.8L1456.6 453.5L1457.1 387.6L1457.6 421.1L1458.1 385.2L1458.6 419.2L1459.1 381.9L1459.6 431.1L1460.1 388.4L1460.6 420.8L1461.1 389.7L1461.6 417.8L1462.1 390.8L1462.6 413.1L1463.1 390.8L1463.6 416.3L1464.1 390.4L1464.6 414.6L1465.1 389.9L1465.6 412.9L1466.1 390.2L1466.6 414.1L1467.1 390.2L1467.6 414.7L1468.1 390.7L1468.6 414.5L1469.1 390.5L1469.6 414.6L1470.1 389.8L1470.6 414.2L1471.1 390.7L1471.6 415.3L1472.1 391.4L1472.6 413.5L1473.1 391.3L1473.6 413.2L1474.1 389.1L1474.6 413.7L1475.1 388.3L1475.6 413.4L1476.1 390.6L1476.6 414.3L1477.1 390.3L1477.6 412.9L1478.1 391.3L1478.6 415.6L1479.1 390.1L1479.6 414.2L1480.1 390.5L1480.6 413.9L1481.1 391.4L1481.6 414.2L1482.1 391.3L1482.6 415.3L1483.1 389.3L1483.6 415.7L1484.1 390.4L1484.6 414.2L1485.1 386.6L1485.6 413.5L1486.1 380.1L1486.6 431.5L1487.1 353.2L1487.6 479.3L1488.1 379.4L1488.6 423.2L1489.1 385L1489.6 428.3L1490.1 385.3L1490.6 426L1491.1 371.9L1491.6 449.3L1492.1 382.6L1492.6 426L1493.1 384.5L1493.6 419.1L1494.1 386.2L1494.6 423L1495.1 386.7L1495.6 420.5L1496.1 380.1L1496.6 436.5L1497.1 391.3L1497.6 414.2L1498.1 390.3L1498.6 416.3L1499.1 390.6L1499.6 415L1500.1 389.2L1500.6 412.9L1501.1 391.2L1501.6 414.9L1502.1 390.9L1502.6 414.9L1503.1 390.6L1503.6 413.8L1504.1 389.6L1504.6 415.1L1505.1 390L1505.6 412.9L1506.1 390L1506.6 415L1507.1 386.1L1507.6 415L1508.1 388.4L1508.6 412.8L1509.1 390.3L1509.6 413L1510.1 390.1L1510.6 413.4L1511.1 389.8L1511.6 413.6L1512.1 390.3L1512.6 414L1513.1 390.6L1513.6 413.9L1514.1 390.7L1514.6 414.4L1515.1 384.7L1515.6 413L1516.1 388.6L1516.6 413.1L1517.1 386.9L1517.6 413.7L1518.1 390.8L1518.6 413.8L1519.1 391.3L1519.6 416.1L1520.1 390.5L1520.6 415.2L1521.1 390.1L1521.6 415L1522.1 382.8L1522.6 418.3L1523.1 383L1523.6 425.4L1524.1 337.9L1524.6 511.5L1525.1 381L1525.6 425.4L1526.1 378.2L1526.6 422.4L1527.1 384.5L1527.6 423L1528.1 386.2L1528.6 425.4L1529.1 382.7L1529.6 421.7L1530.1 371.9L1530.6 456.2L1531.1 386.5L1531.6 417.7L1532.1 387.2L1532.6 420.1L1533.1 378.3L1533.6 432.9L1534.1 389.1L1534.6 418.2L1535.1 390.3L1535.6 416.3L1536.1 390.5L1536.6 413.9L1537.1 388.5L1537.6 414.3L1538.1 390.7L1538.6 415.8L1539.1 390.6L1539.6 415.2L1540.1 389.3L1540.6 414.2L1541.1 390.2L1541.6 413.6L1542.1 390.5L1542.6 415L1543.1 389.7L1543.6 414.5L1544.1 390.8L1544.6 412.8L1545.1 390.5L1545.6 415.3L1546.1 390.8L1546.6 414.4L1547.1 391.1L1547.6 413.4L1548.1 390.9L1548.6 413.1L1549.1 391L1549.6 413.2L1550.1 391.1L1550.6 413.6L1551.1 386.8L1551.6 412.8L1552.1 388.4L1552.6 413.1L1553.1 391.1L1553.6 417.7L1554.1 390.2L1554.6 412.9L1555.1 387.7L1555.6 413.2L1556.1 391.3L1556.6 413L1557.1 379.5L1557.6 427.4L1558.1 351.9L1558.6 479.9L1559.1 377.5L1559.6 427.7L1560.1 383.3L1560.6 427.1L1561.1 380.9L1561.6 428.7L1562.1 374.6L1562.6 442L1563.1 387.7L1563.6 420.2L1564.1 387L1564.6 420.2L1565.1 388.1L1565.6 416.6L1566.1 390.3L1566.6 415.6L1567.1 390.9L1567.6 413.4L1568.1 387.9L1568.6 414.5L1569.1 388L1569.6 414.6L1570.1 390.5L1570.6 415.8L1571.1 386.8L1571.6 416.3L1572.1 391.3L1572.6 414.9L1573.1 391.2L1573.6 418.2L1574.1 389.3L1574.6 412.8L1575.1 388.9L1575.6 414.5L1576.1 391.4L1576.6 413.7L1577.1 390.4L1577.6 420.7L1578.1 391.1L1578.6 419.4L1579.1 388.3L1579.6 412.9L1580.1 391.2L1580.6 413.7L1581.1 391.1L1581.6 413.4L1582.1 390L1582.6 414.1L1583.1 390.2L1583.6 413.7L1584.1 390.4L1584.6 413.1L1585.1 384.4L1585.6 415.3" fill="none" stroke="#0b0b0b" stroke-width="1.45" stroke-linejoin="bevel"/>
</g>
<g id="letters">
<text transform="translate(-3.2 33.8) scale(1.04 1)" font-size="63">a</text>
<text transform="translate(9.6 596.8) scale(1.08 1)" font-size="63">b</text>
<text transform="translate(558.8 596.8) scale(1.08 1)" font-size="63">c</text>
<text transform="translate(1107.2 602.5) scale(1.08 1)" font-size="63">d</text>
<text transform="translate(11.2 1036.6) scale(1.03 1)" font-size="63">e</text>
<text transform="translate(560.2 1048.3) scale(1.0 1)" font-size="63">f</text>
<text transform="translate(1107.6 1048.3) scale(1.08 1)" font-size="63">g</text>
</g>
<g id="weeks">
<text x="302.3" y="63.9" font-size="29.3" text-anchor="middle">Week 1</text>
<text x="595.5" y="63.9" font-size="29.3" text-anchor="middle">Week 2</text>
<text x="887.4" y="63.9" font-size="29.3" text-anchor="middle">Week 3</text>
<text x="1179.3" y="63.9" font-size="29.3" text-anchor="middle">Week 4</text>
<text x="1471.2" y="63.9" font-size="29.3" text-anchor="middle">Week 5</text>
<text x="303.6" y="304.4" font-size="29.3" text-anchor="middle">Week 6</text>
<text x="593.6" y="304.4" font-size="29.3" text-anchor="middle">Week 7</text>
<text x="883.6" y="304.4" font-size="29.3" text-anchor="middle">Week 8</text>
<text x="1173.6" y="304.4" font-size="29.3" text-anchor="middle">Week 9</text>
<text x="1463.6" y="304.4" font-size="29.3" text-anchor="middle">Week 10</text>
</g>
<g id="scalebar">
<path d="M149.2 464 V529 H239.3" fill="none" stroke="#111" stroke-width="2.4" stroke-linejoin="miter"/>
<text x="162" y="513.4" font-size="29.3" text-anchor="start">M3</text>
<text x="167.2" y="555.7" font-size="29.3" text-anchor="start">1 s</text>
<text x="137.8" y="543" font-size="29.3" text-anchor="start" transform="rotate(-90 137.8 543)">100 µV</text>
</g>
<g>
<path d="M189.9 680 H199 V870.5 H532.5" fill="none" stroke="#111" stroke-width="2.6" stroke-linejoin="miter"/>
<line x1="189.9" y1="775.2" x2="199" y2="775.2" stroke="#111" stroke-width="2.6" stroke-linecap="butt"/>
<line x1="189.9" y1="870.5" x2="199" y2="870.5" stroke="#111" stroke-width="2.6" stroke-linecap="butt"/>
<line x1="199" y1="870.5" x2="199" y2="879.6" stroke="#111" stroke-width="2.6" stroke-linecap="butt"/>
<text x="198.2" y="912.4" font-size="29.3" text-anchor="middle">0</text>
<line x1="310.2" y1="870.5" x2="310.2" y2="879.6" stroke="#111" stroke-width="2.6" stroke-linecap="butt"/>
<text x="309.4" y="912.4" font-size="29.3" text-anchor="middle">20</text>
<line x1="421.3" y1="870.5" x2="421.3" y2="879.6" stroke="#111" stroke-width="2.6" stroke-linecap="butt"/>
<text x="420.5" y="912.4" font-size="29.3" text-anchor="middle">40</text>
<line x1="532.5" y1="870.5" x2="532.5" y2="879.6" stroke="#111" stroke-width="2.6" stroke-linecap="butt"/>
<text x="533.5" y="912.4" font-size="29.3" text-anchor="middle">60</text>
<text x="187.4" y="690.9" font-size="29.3" text-anchor="end">100</text>
<text x="187.4" y="786.1" font-size="29.3" text-anchor="end">0</text>
<text x="187.4" y="881.4" font-size="29.3" text-anchor="end">–100</text>
<text x="69.5" y="861.1" font-size="36" text-anchor="start" transform="rotate(-90 69.5 861.1)">Filtered</text>
<text x="112.4" y="861.3" font-size="36" text-anchor="start" transform="rotate(-90 112.4 861.3)">potential (µV)</text>
<text x="356.2" y="962.8" font-size="36" text-anchor="middle">Time (s)</text>
<text x="208.8" y="674.9" font-size="36" text-anchor="start">spikes</text>
<rect x="200" y="753" width="333.5" height="44.6" fill="#131313"/>
<path d="M200.6 745L200.6 745L201 798.2L201.4 752.2L201.8 798.6L202.2 752.8L202.6 798.4L203 747L203.4 801.8L203.8 751.7L204.2 798.6L204.6 752.8L205 799.7L205.4 752.8L205.8 798.1L206.2 750.2L206.6 798.8L207 751.3L207.4 799.3L207.8 751.9L208.2 798.2L208.6 751.9L209 801.7L209.4 752.6L209.8 797.7L210.2 752.1L210.6 798.7L211 752.5L211.4 798.2L211.8 752.5L212.2 798.7L212.6 750.7L213 799L213.4 752L213.8 797.8L214.2 752.7L214.6 802.1L215 752.4L215.4 798.4L215.8 750.6L216.2 798.9L216.6 750.4L217 798.5L217.4 752.6L217.8 798.2L218.2 752.3L218.6 798.1L219 749.8L219.4 802.6L219.8 752.8L220.2 798.3L220.6 750.7L221 798.8L221.4 752.2L221.8 803.6L222.2 749.4L222.6 798.9L223 751.3L223.4 798.5L223.8 752.2L224.2 798.2L224.6 751.7L225 798.8L225.4 751.2L225.8 798.6L226.2 750.4L226.6 799.2L227 752L227.4 805.2L227.8 749.8L228.2 798.6L228.6 751.9L229 799.1L229.4 751L229.8 797.8L230.2 750.7L230.6 798.7L231 750.2L231.4 798.6L231.8 752.4L232.2 798.7L232.6 751.6L233 800.5L233.4 752.6L233.8 801.9L234.2 752L234.6 798.1L235 750L235.4 798.1L235.8 745L236.2 797.7L236.6 750.1L237 798.2L237.4 752.3L237.8 799.7L238.2 744.3L238.6 799.1L239 752.4L239.4 798.7L239.8 752.1L240.2 799.3L240.6 750L241 797.8L241.4 752.5L241.8 798.9L242.2 752.7L242.6 797.8L243 752.5L243.4 798L243.8 752.7L244.2 798.5L244.6 752.4L245 797.8L245.4 750.7L245.8 798.6L246.2 752.1L246.6 797.9L247 752.7L247.4 799.4L247.8 751.1L248.2 798.9L248.6 752.3L249 799.4L249.4 750L249.8 799.4L250.2 752.1L250.6 803.3L251 750.3L251.4 799.1L251.8 752.3L252.2 799.3L252.6 751.5L253 799L253.4 751.1L253.8 798L254.2 751.3L254.6 799.1L255 752.4L255.4 798.3L255.8 751.1L256.2 798.6L256.6 746.5L257 798.5L257.4 752.4L257.8 797.9L258.2 752.7L258.6 798.1L259 750.7L259.4 797.9L259.8 750.6L260.2 798.6L260.6 752.5L261 799.1L261.4 752.4L261.8 799.2L262.2 751.7L262.6 798.4L263 747.3L263.4 799.8L263.8 750.2L264.2 798.7L264.6 751.9L265 799.4L265.4 751.5L265.8 797.9L266.2 752.2L266.6 799.6L267 751.5L267.4 798.1L267.8 752.6L268.2 799.9L268.6 752L269 800.5L269.4 752.4L269.8 798.4L270.2 750.9L270.6 798.1L271 750.6L271.4 800.8L271.8 747.3L272.2 798.4L272.6 752L273 799.6L273.4 751.8L273.8 798.1L274.2 752.8L274.6 799.6L275 752.7L275.4 797.9L275.8 751.8L276.2 799L276.6 752.8L277 800.3L277.4 749.5L277.8 799.6L278.2 751.5L278.6 800.4L279 752.3L279.4 800L279.8 752.1L280.2 798L280.6 751.6L281 799.2L281.4 752.3L281.8 799.6L282.2 752.3L282.6 799.3L283 750L283.4 798.2L283.8 752.1L284.2 799.6L284.6 752L285 800.2L285.4 750.7L285.8 798.8L286.2 752.6L286.6 798.8L287 748L287.4 798.1L287.8 752.2L288.2 799.9L288.6 752.4L289 799.6L289.4 752.4L289.8 798.4L290.2 751.3L290.6 798L291 752L291.4 797.9L291.8 751L292.2 798.4L292.6 752.6L293 798L293.4 752.8L293.8 799.1L294.2 752.2L294.6 799.5L295 751.9L295.4 797.9L295.8 750.2L296.2 799.4L296.6 752.3L297 799.7L297.4 751.6L297.8 797.7L298.2 748.8L298.6 799.2L299 752.7L299.4 798.1L299.8 752.7L300.2 798.4L300.6 751.7L301 797.8L301.4 752.1L301.8 799.1L302.2 752.3L302.6 799.8L303 751.4L303.4 800.5L303.8 752.4L304.2 798.2L304.6 749.9L305 797.9L305.4 752.3L305.8 797.9L306.2 752.1L306.6 798.3L307 752.5L307.4 797.9L307.8 749.1L308.2 798.8L308.6 750.1L309 799L309.4 752.7L309.8 797.7L310.2 750.3L310.6 798.9L311 749.9L311.4 799.3L311.8 752.3L312.2 798.6L312.6 751.8L313 798.5L313.4 752.1L313.8 800.6L314.2 752.1L314.6 799.3L315 751.2L315.4 798.1L315.8 751L316.2 799.3L316.6 752.1L317 798.6L317.4 752.4L317.8 797.9L318.2 751.6L318.6 799.8L319 752.4L319.4 801.4L319.8 750.5L320.2 798.4L320.6 752.8L321 799L321.4 750.2L321.8 798.6L322.2 752.6L322.6 799L323 751.8L323.4 798.6L323.8 751.2L324.2 798.2L324.6 750.3L325 798.8L325.4 750.5L325.8 800.9L326.2 751.7L326.6 799.6L327 751L327.4 798.8L327.8 751.4L328.2 798.5L328.6 751.5L329 798.6L329.4 752.2L329.8 799.6L330.2 750.1L330.6 797.9L331 750.6L331.4 799.3L331.8 752.1L332.2 797.8L332.6 751.2L333 798.4L333.4 751.8L333.8 800.5L334.2 752L334.6 799L335 751.2L335.4 804.7L335.8 751.6L336.2 798.1L336.6 751.6L337 798.5L337.4 752.6L337.8 799.4L338.2 752.7L338.6 800.1L339 751.4L339.4 798.5L339.8 751.4L340.2 797.7L340.6 752.7L341 799.3L341.4 751.4L341.8 798.2L342.2 752L342.6 798.8L343 750.9L343.4 798.7L343.8 751.9L344.2 799.1L344.6 752.1L345 798.5L345.4 750.6L345.8 798.2L346.2 752.4L346.6 800.5L347 748.7L347.4 798.1L347.8 752.7L348.2 797.7L348.6 750.1L349 799.4L349.4 750.8L349.8 800.5L350.2 751.8L350.6 800.3L351 752.5L351.4 798.3L351.8 751.1L352.2 799.4L352.6 752.4L353 799.3L353.4 751.7L353.8 799.8L354.2 751.2L354.6 798.1L355 751.6L355.4 800.1L355.8 749.8L356.2 798L356.6 749.8L357 799.3L357.4 750L357.8 798L358.2 751.9L358.6 799.1L359 748.3L359.4 799.1L359.8 752.6L360.2 798.6L360.6 750.3L361 800.6L361.4 751.3L361.8 797.8L362.2 750.7L362.6 798.6L363 745.6L363.4 797.9L363.8 752.3L364.2 797.8L364.6 751.7L365 798.7L365.4 752.4L365.8 798.9L366.2 751.6L366.6 803.1L367 751.7L367.4 798.5L367.8 750.7L368.2 798.7L368.6 751.1L369 798.8L369.4 752.4L369.8 798.2L370.2 752L370.6 799.6L371 752.4L371.4 799.8L371.8 752.1L372.2 798L372.6 752L373 797.8L373.4 752L373.8 799.4L374.2 752.8L374.6 797.9L375 747.8L375.4 798.5L375.8 747.4L376.2 799.2L376.6 752.6L377 798.5L377.4 750.2L377.8 799.7L378.2 752.5L378.6 798L379 752.5L379.4 799.2L379.8 751.3L380.2 798L380.6 752.8L381 799L381.4 751.8L381.8 799.2L382.2 751.1L382.6 799L383 752.8L383.4 798.3L383.8 748.1L384.2 798.5L384.6 752.7L385 798.2L385.4 752.1L385.8 797.7L386.2 751.4L386.6 800.4L387 752.7L387.4 797.9L387.8 752.3L388.2 797.7L388.6 750.6L389 799.6L389.4 751.1L389.8 800.4L390.2 752.3L390.6 797.9L391 752.1L391.4 800.1L391.8 752.4L392.2 797.8L392.6 752.7L393 798.7L393.4 750L393.8 798.6L394.2 750.9L394.6 800.6L395 752.8L395.4 801L395.8 751.7L396.2 799.4L396.6 751.1L397 799.2L397.4 750.9L397.8 800.1L398.2 752L398.6 798.2L399 752.7L399.4 798L399.8 750.7L400.2 799.6L400.6 752.6L401 798.2L401.4 752.5L401.8 797.8L402.2 752.6L402.6 798.7L403 752.2L403.4 799.9L403.8 752.8L404.2 799.3L404.6 746.2L405 798L405.4 752.1L405.8 798.1L406.2 751.4L406.6 797.8L407 752.8L407.4 797.9L407.8 751.9L408.2 800.4L408.6 751L409 797.7L409.4 751.6L409.8 799.2L410.2 750.2L410.6 797.7L411 752.3L411.4 798.3L411.8 750.7L412.2 798.7L412.6 752.8L413 799.2L413.4 752.1L413.8 799.1L414.2 752.4L414.6 798.2L415 750.7L415.4 798.6L415.8 751.9L416.2 802.2L416.6 752.8L417 797.7L417.4 750.8L417.8 798.6L418.2 752.1L418.6 799.3L419 748.4L419.4 798.7L419.8 751.9L420.2 798.6L420.6 748.9L421 798.3L421.4 752L421.8 798.9L422.2 752.2L422.6 799.4L423 749.4L423.4 797.8L423.8 751.5L424.2 799L424.6 752L425 798.1L425.4 749.7L425.8 800L426.2 750.2L426.6 798.2L427 752.5L427.4 803.2L427.8 751.7L428.2 798L428.6 752.7L429 798.4L429.4 752.1L429.8 800.8L430.2 751.2L430.6 800.2L431 750.8L431.4 799.2L431.8 748.7L432.2 798.5L432.6 750.9L433 798.1L433.4 752.8L433.8 799.8L434.2 750.9L434.6 797.9L435 751.4L435.4 799.6L435.8 752.2L436.2 798.5L436.6 751.3L437 799L437.4 748.1L437.8 799.5L438.2 752.8L438.6 800.9L439 750.3L439.4 798.6L439.8 751.9L440.2 799L440.6 752.4L441 798.4L441.4 752.6L441.8 799.6L442.2 750.5L442.6 798L443 752.5L443.4 799.9L443.8 751.5L444.2 800.4L444.6 752.6L445 798.4L445.4 752.7L445.8 800.5L446.2 750.8L446.6 797.8L447 751L447.4 799L447.8 750.6L448.2 799.5L448.6 751.9L449 798.3L449.4 751.1L449.8 799.6L450.2 750.8L450.6 797.8L451 752.4L451.4 799.5L451.8 751.6L452.2 799.6L452.6 750.4L453 800.7L453.4 748.6L453.8 798.8L454.2 751.9L454.6 798.8L455 751.7L455.4 799.2L455.8 752.4L456.2 799L456.6 748.5L457 798.6L457.4 752.5L457.8 798.4L458.2 751.5L458.6 798.8L459 751.1L459.4 797.9L459.8 752L460.2 798.1L460.6 752.8L461 800.1L461.4 750.4L461.8 799L462.2 751.1L462.6 799L463 751.7L463.4 801.1L463.8 750.2L464.2 798.6L464.6 752.5L465 799.6L465.4 752.5L465.8 800.8L466.2 751.8L466.6 798.2L467 750.8L467.4 799.6L467.8 752.4L468.2 800.8L468.6 750.7L469 797.9L469.4 752.3L469.8 798L470.2 750.7L470.6 799.3L471 752.7L471.4 799.2L471.8 752.6L472.2 799.9L472.6 750.2L473 798.1L473.4 751.3L473.8 798.5L474.2 747.5L474.6 798.4L475 751.9L475.4 800L475.8 751.2L476.2 798.5L476.6 752L477 798.6L477.4 749.3L477.8 798L478.2 751.7L478.6 798L479 750.4L479.4 799L479.8 751.7L480.2 798.6L480.6 745.2L481 800.1L481.4 749.9L481.8 799.7L482.2 752.5L482.6 799L483 749.4L483.4 799.6L483.8 752.7L484.2 797.9L484.6 752.7L485 798.1L485.4 749.4L485.8 797.8L486.2 752.7L486.6 797.7L487 747.2L487.4 799.9L487.8 751.7L488.2 798.8L488.6 751.9L489 798L489.4 751.3L489.8 797.8L490.2 752.1L490.6 798L491 752.5L491.4 799L491.8 751.9L492.2 797.7L492.6 751.7L493 798.9L493.4 752.7L493.8 799.4L494.2 752.1L494.6 798.3L495 752L495.4 798.7L495.8 749.5L496.2 800L496.6 752L497 797.7L497.4 750.5L497.8 799.2L498.2 749.7L498.6 798.4L499 750.2L499.4 798.3L499.8 752.8L500.2 797.7L500.6 751.1L501 799.2L501.4 747.7L501.8 798.1L502.2 751.1L502.6 798.3L503 752.8L503.4 798.1L503.8 752L504.2 798.4L504.6 751.5L505 798.6L505.4 752.8L505.8 797.7L506.2 752.4L506.6 798.3L507 751.4L507.4 798.9L507.8 748.2L508.2 797.8L508.6 750.6L509 798.3L509.4 752.7L509.8 799.9L510.2 752.6L510.6 798.3L511 752.2L511.4 799L511.8 752.7L512.2 797.7L512.6 752.6L513 798.3L513.4 751.7L513.8 798.9L514.2 748.1L514.6 798L515 752.4L515.4 798L515.8 750.4L516.2 797.8L516.6 751.4L517 797.9L517.4 752.8L517.8 798.4L518.2 752.1L518.6 798.2L519 750.5L519.4 798L519.8 751.2L520.2 800.5L520.6 752.8L521 798.8L521.4 751.7L521.8 798.8L522.2 750.7L522.6 800.4L523 752.2L523.4 797.8L523.8 752.6L524.2 797.9L524.6 750.4L525 799.4L525.4 750.8L525.8 798.8L526.2 751.8L526.6 800.9L527 751.8L527.4 803.6L527.8 752.2L528.2 798.2L528.6 751.4L529 798.9L529.4 750.9L529.8 797.7L530.2 751.6L530.6 799.1L531 750.6L531.4 799.8L531.8 752.7L532.2 803.6L532.6 751.6L533 797.8" fill="none" stroke="#131313" stroke-width="1.25" stroke-linejoin="bevel"/>
<path d="M203 795.2L203.9 861.4L205.1 861.4L206 795.2ZM205.9 795.2L207.1 810L208.3 795.2ZM204.1 755.2L205.3 740.1L206.2 740.1L207.4 755.2ZM209.5 795.2L210.6 867.9L211.8 867.9L212.9 795.2ZM212.3 795.2L213.5 806.3L214.7 795.2ZM210.8 755.2L211.7 735.1L212.6 735.1L213.5 755.2ZM213.3 755.2L214.5 735.3L215.7 755.2ZM217.5 795.2L218.7 852.4L219.9 852.4L221.2 795.2ZM220.2 795.2L221.4 820.2L222.6 795.2ZM219 755.2L220.3 726.4L221.2 726.4L222.4 755.2ZM221.9 755.2L223.1 736.1L224.3 755.2ZM223.8 795.2L225.1 856.4L226.3 856.4L227.7 795.2ZM225.3 755.2L226.3 731.3L227.2 731.3L228.3 755.2ZM230.3 795.2L231.7 860.2L232.9 860.2L234.4 795.2ZM231.8 755.2L233.2 742L234.1 742L235.4 755.2ZM235.7 755.2L236.9 735.6L238.1 755.2ZM238.4 795.2L239.6 845L240.8 845L242 795.2ZM240.6 795.2L241.8 822L243 795.2ZM239.8 755.2L240.8 726.2L241.7 726.2L242.7 755.2ZM246 795.2L247.5 870L248.7 870L250.1 795.2ZM247.5 755.2L248.7 734.3L249.6 734.3L250.9 755.2ZM254 795.2L255.1 825.8L256.3 825.8L257.3 795.2ZM255.2 755.2L256.4 742.3L257.3 742.3L258.4 755.2ZM252.1 755.2L253.3 738.7L254.5 755.2ZM261.2 795.2L262.4 869.6L263.6 869.6L264.9 795.2ZM262.8 755.2L263.7 728L264.6 728L265.5 755.2ZM260.2 755.2L261.4 747.8L262.6 755.2ZM269.3 795.2L270.4 853.8L271.6 853.8L272.7 795.2ZM272 795.2L273.2 809.3L274.4 795.2ZM270 755.2L271.2 730.4L272.1 730.4L273.4 755.2ZM268.1 755.2L269.3 742.9L270.5 755.2ZM275.9 795.2L277 852.2L278.2 852.2L279.2 795.2ZM277.1 755.2L278.5 731L279.4 731L280.7 755.2ZM280.9 755.2L282.1 737.7L283.3 755.2ZM283.8 795.2L285.2 854.2L286.4 854.2L287.8 795.2ZM285.4 755.2L286.3 730.5L287.2 730.5L288.1 755.2ZM290.8 795.2L292.1 868.3L293.3 868.3L294.7 795.2ZM292.4 755.2L293.7 740.6L294.6 740.6L295.8 755.2ZM290.3 755.2L291.5 738.5L292.7 755.2ZM297.9 795.2L298.9 852L300.1 852L301 795.2ZM298.6 755.2L299.7 732.4L300.6 732.4L301.7 755.2ZM295.6 755.2L296.8 741.9L298 755.2ZM305.2 795.2L306.5 835.5L307.7 835.5L309 795.2ZM306.2 755.2L307.4 727.3L308.3 727.3L309.5 755.2ZM310.1 755.2L311.3 736.2L312.5 755.2ZM313.6 795.2L315 860.2L316.2 860.2L317.6 795.2ZM316.9 795.2L318.1 820.3L319.3 795.2ZM315.1 755.2L316.2 739.5L317.1 739.5L318.3 755.2ZM312.4 755.2L313.6 740L314.8 755.2ZM321.3 795.2L322.5 860.9L323.7 860.9L324.9 795.2ZM322.5 755.2L323.4 734L324.3 734L325.2 755.2ZM324.9 755.2L326.1 748.1L327.3 755.2ZM327.8 795.2L328.9 863.3L330.1 863.3L331.2 795.2ZM329.1 755.2L330.3 731.8L331.2 731.8L332.3 755.2ZM326.6 755.2L327.8 735.7L329 755.2ZM335.6 795.2L336.6 867.7L337.8 867.7L338.9 795.2ZM336.3 755.2L337.4 733.4L338.3 733.4L339.4 755.2ZM333.2 755.2L334.4 742.5L335.6 755.2ZM342 795.2L343.3 846.2L344.5 846.2L345.8 795.2ZM345.4 795.2L346.6 806.1L347.8 795.2ZM343.1 755.2L344.2 737.6L345.1 737.6L346.3 755.2ZM346.2 755.2L347.4 745.6L348.6 755.2ZM348.6 795.2L349.9 864.1L351.1 864.1L352.3 795.2ZM351.2 795.2L352.4 824.4L353.6 795.2ZM349.5 755.2L350.7 726.6L351.6 726.6L352.9 755.2ZM356 795.2L357.2 833.9L358.4 833.9L359.5 795.2ZM358.4 795.2L359.6 816L360.8 795.2ZM357.3 755.2L358.2 731.8L359.1 731.8L360 755.2ZM363.7 795.2L365.1 870.2L366.3 870.2L367.8 795.2ZM366.8 795.2L368 830.5L369.2 795.2ZM365.2 755.2L366.2 737.2L367.1 737.2L368 755.2ZM367.6 755.2L368.8 743.9L370 755.2ZM371.3 795.2L372.4 870.2L373.6 870.2L374.8 795.2ZM373.6 795.2L374.8 831.5L376 795.2ZM372.7 755.2L373.6 739.7L374.5 739.7L375.4 755.2ZM369.2 755.2L370.4 743.7L371.6 755.2ZM378 795.2L379.5 863.1L380.7 863.1L382.2 795.2ZM381.1 795.2L382.3 822.8L383.5 795.2ZM379.4 755.2L380.4 739.6L381.3 739.6L382.3 755.2ZM384.6 795.2L385.9 832.3L387.1 832.3L388.4 795.2ZM387.3 795.2L388.5 808.3L389.7 795.2ZM386.4 755.2L387.3 729.3L388.2 729.3L389.1 755.2ZM391.4 795.2L392.3 850.6L393.5 850.6L394.5 795.2ZM394 795.2L395.2 820.6L396.4 795.2ZM392.9 755.2L393.9 735L394.8 735L395.8 755.2ZM396 755.2L397.2 735.4L398.4 755.2ZM399.2 795.2L400.4 858.6L401.6 858.6L402.8 795.2ZM402.1 795.2L403.3 810.5L404.5 795.2ZM400.5 755.2L401.4 728.9L402.3 728.9L403.2 755.2ZM405.7 795.2L407.1 862L408.3 862L409.6 795.2ZM407 755.2L408.1 738.2L409 738.2L410.2 755.2ZM409.8 755.2L411 747.2L412.2 755.2ZM413.5 795.2L414.9 860.7L416.1 860.7L417.5 795.2ZM414.7 755.2L415.9 733.3L416.8 733.3L418 755.2ZM417.5 755.2L418.7 744.3L419.9 755.2ZM421.8 795.2L423.2 852.5L424.4 852.5L425.7 795.2ZM424.4 795.2L425.6 831.8L426.8 795.2ZM423.5 755.2L424.5 727.9L425.4 727.9L426.4 755.2ZM427.4 755.2L428.6 744.1L429.8 755.2ZM429.9 795.2L431.3 850.7L432.5 850.7L433.9 795.2ZM433.5 795.2L434.7 814L435.9 795.2ZM431.3 755.2L432.6 729.4L433.5 729.4L434.8 755.2ZM437.2 795.2L438.2 859.2L439.4 859.2L440.4 795.2ZM438.2 755.2L439.2 732.3L440.1 732.3L441.2 755.2ZM444 795.2L445.3 859.9L446.5 859.9L447.8 795.2ZM445.3 755.2L446.2 730.7L447.1 730.7L448 755.2ZM450.9 795.2L452.4 870.2L453.6 870.2L455 795.2ZM454.1 795.2L455.3 826.3L456.5 795.2ZM452.3 755.2L453.3 739.7L454.2 739.7L455.1 755.2ZM459.4 795.2L460.6 839L461.8 839L463.1 795.2ZM460.7 755.2L461.9 734.8L462.8 734.8L464 755.2ZM463.7 755.2L464.9 736.8L466.1 755.2ZM466.5 795.2L467.9 860.3L469.1 860.3L470.5 795.2ZM467.7 755.2L468.7 726.3L469.6 726.3L470.7 755.2ZM475.4 795.2L476.4 870.2L477.6 870.2L478.7 795.2ZM478.3 795.2L479.5 825.8L480.7 795.2ZM476 755.2L477.4 741.9L478.3 741.9L479.6 755.2ZM474.3 755.2L475.5 737.6L476.7 755.2ZM483 795.2L484.4 858.6L485.6 858.6L486.9 795.2ZM486.3 795.2L487.5 824.6L488.7 795.2ZM484.3 755.2L485.4 727.5L486.3 727.5L487.4 755.2ZM482.1 755.2L483.3 740.1L484.5 755.2ZM491 795.2L492.5 853.8L493.7 853.8L495.1 795.2ZM492.4 755.2L493.3 730.4L494.2 730.4L495 755.2ZM495.6 755.2L496.8 745.4L498 755.2ZM497.7 795.2L498.8 868.5L500 868.5L501.1 795.2ZM498.4 755.2L499.7 727.9L500.6 727.9L501.8 755.2ZM496.7 755.2L497.9 737.9L499.1 755.2ZM504.8 795.2L505.8 846.9L507 846.9L508.1 795.2ZM507.2 795.2L508.4 818.3L509.6 795.2ZM506.1 755.2L506.9 738.3L507.8 738.3L508.7 755.2ZM503.5 755.2L504.7 743L505.9 755.2ZM511.4 795.2L512.7 836.6L513.9 836.6L515.3 795.2ZM513.9 795.2L515.1 823.6L516.3 795.2ZM512.8 755.2L514 730.2L514.9 730.2L516.1 755.2ZM518.1 795.2L519.3 847.9L520.5 847.9L521.7 795.2ZM521.3 795.2L522.5 827.1L523.7 795.2ZM519.6 755.2L520.8 739.4L521.7 739.4L522.9 755.2ZM523.4 755.2L524.6 737.5L525.8 755.2ZM525.4 795.2L526.4 864L527.6 864L528.6 795.2ZM528.1 795.2L529.3 822.6L530.5 795.2ZM526.5 755.2L527.4 740.2L528.3 740.2L529.2 755.2Z" fill="#131313" stroke="#131313" stroke-width="0.5" stroke-linejoin="miter"/>
</g>
<g>
<path d="M191.5 1124.2 H200.6 V1314.4 H533.5" fill="none" stroke="#111" stroke-width="2.6" stroke-linejoin="miter"/>
<line x1="191.5" y1="1219.3" x2="200.6" y2="1219.3" stroke="#111" stroke-width="2.6" stroke-linecap="butt"/>
<line x1="191.5" y1="1314.4" x2="200.6" y2="1314.4" stroke="#111" stroke-width="2.6" stroke-linecap="butt"/>
<line x1="200.6" y1="1314.4" x2="200.6" y2="1323.5" stroke="#111" stroke-width="2.6" stroke-linecap="butt"/>
<text x="199.8" y="1352.6" font-size="29.3" text-anchor="middle">0</text>
<line x1="311.6" y1="1314.4" x2="311.6" y2="1323.5" stroke="#111" stroke-width="2.6" stroke-linecap="butt"/>
<text x="310.8" y="1352.6" font-size="29.3" text-anchor="middle">20</text>
<line x1="422.5" y1="1314.4" x2="422.5" y2="1323.5" stroke="#111" stroke-width="2.6" stroke-linecap="butt"/>
<text x="421.7" y="1352.6" font-size="29.3" text-anchor="middle">40</text>
<line x1="533.5" y1="1314.4" x2="533.5" y2="1323.5" stroke="#111" stroke-width="2.6" stroke-linecap="butt"/>
<text x="534.5" y="1352.6" font-size="29.3" text-anchor="middle">60</text>
<text x="189" y="1135.1" font-size="29.3" text-anchor="end">100</text>
<text x="189" y="1230.2" font-size="29.3" text-anchor="end">0</text>
<text x="189" y="1325.3" font-size="29.3" text-anchor="end">–100</text>
<text x="69.5" y="1305" font-size="36" text-anchor="start" transform="rotate(-90 69.5 1305)">Filtered</text>
<text x="112.4" y="1305.2" font-size="36" text-anchor="start" transform="rotate(-90 112.4 1305.2)">potential (µV)</text>
<text x="357.6" y="1406.7" font-size="36" text-anchor="middle">Time (s)</text>
<text x="208.6" y="1112.2" font-size="36" text-anchor="start">no spikes</text>
<rect x="201.6" y="1197" width="332.9" height="44.6" fill="#131313"/>
<path d="M202.2 1196.8L202.2 1196.8L202.6 1242.7L203 1195.3L203.4 1242.3L203.8 1188.6L204.2 1242.6L204.6 1194.8L205 1244.8L205.4 1193.5L205.8 1241.9L206.2 1193.3L206.6 1242.9L207 1194.3L207.4 1242.7L207.8 1193.6L208.2 1245.4L208.6 1195.7L209 1243.6L209.4 1192.2L209.8 1243.6L210.2 1195.1L210.6 1243.6L211 1194L211.4 1244.6L211.8 1195.2L212.2 1242L212.6 1195.9L213 1242.6L213.4 1196.3L213.8 1243.3L214.2 1193L214.6 1242.1L215 1195.6L215.4 1242L215.8 1196.6L216.2 1241.7L216.6 1196.8L217 1242.3L217.4 1196.6L217.8 1243.8L218.2 1194.9L218.6 1246L219 1196L219.4 1242.8L219.8 1196.6L220.2 1244L220.6 1196.3L221 1242.6L221.4 1189.8L221.8 1243.9L222.2 1196.2L222.6 1242.5L223 1196.1L223.4 1245.2L223.8 1195.2L224.2 1244.2L224.6 1196.7L225 1247L225.4 1192L225.8 1242.5L226.2 1190.2L226.6 1243.1L227 1193.5L227.4 1245.6L227.8 1196.9L228.2 1245L228.6 1196.6L229 1242.6L229.4 1196.8L229.8 1243L230.2 1196.1L230.6 1241.8L231 1196.2L231.4 1242.6L231.8 1195.2L232.2 1242.8L232.6 1196.1L233 1243L233.4 1194.6L233.8 1241.8L234.2 1195.5L234.6 1242.9L235 1196.8L235.4 1242.3L235.8 1196.7L236.2 1246.3L236.6 1196.8L237 1242.9L237.4 1196.7L237.8 1242.1L238.2 1196.1L238.6 1242.9L239 1194.3L239.4 1243.4L239.8 1195.4L240.2 1241.9L240.6 1192.2L241 1243L241.4 1195.2L241.8 1243.9L242.2 1194.1L242.6 1243.3L243 1194.2L243.4 1242L243.8 1196.7L244.2 1242.2L244.6 1194.9L245 1242.6L245.4 1194.6L245.8 1243.5L246.2 1195.9L246.6 1243.8L247 1195.7L247.4 1242.2L247.8 1194.4L248.2 1241.8L248.6 1196.4L249 1243L249.4 1195.1L249.8 1242.1L250.2 1196.8L250.6 1246.2L251 1194.1L251.4 1244.8L251.8 1196.1L252.2 1243.6L252.6 1195.7L253 1244.3L253.4 1196.4L253.8 1242.5L254.2 1196.3L254.6 1242.2L255 1196.6L255.4 1244.5L255.8 1194.1L256.2 1244.2L256.6 1193.2L257 1242.6L257.4 1196.7L257.8 1242.1L258.2 1196.7L258.6 1242.6L259 1194.9L259.4 1242.9L259.8 1196.7L260.2 1242.2L260.6 1196.6L261 1244.1L261.4 1196.3L261.8 1243.5L262.2 1195.2L262.6 1243.7L263 1194.6L263.4 1242.6L263.8 1196.4L264.2 1243.7L264.6 1196L265 1241.9L265.4 1195.5L265.8 1244.4L266.2 1196.4L266.6 1244.2L267 1195.5L267.4 1242.3L267.8 1196.7L268.2 1244.1L268.6 1196.9L269 1241.9L269.4 1196.4L269.8 1242.3L270.2 1196.3L270.6 1242.1L271 1195.8L271.4 1241.9L271.8 1195.1L272.2 1241.7L272.6 1196.9L273 1242.5L273.4 1195.5L273.8 1242.3L274.2 1196.2L274.6 1242.6L275 1194.9L275.4 1242L275.8 1193.6L276.2 1243.7L276.6 1196.2L277 1242L277.4 1193.1L277.8 1242.6L278.2 1195.2L278.6 1242L279 1196.8L279.4 1243.4L279.8 1193.2L280.2 1243.3L280.6 1196.6L281 1244.2L281.4 1196.6L281.8 1244.2L282.2 1195.6L282.6 1243.5L283 1196.4L283.4 1243.1L283.8 1196.8L284.2 1243.9L284.6 1196.2L285 1244.6L285.4 1196.8L285.8 1242.9L286.2 1195.3L286.6 1243.5L287 1194.9L287.4 1243.3L287.8 1195.9L288.2 1243.5L288.6 1194.9L289 1243.5L289.4 1193.1L289.8 1241.8L290.2 1194.1L290.6 1243.5L291 1196.3L291.4 1248.9L291.8 1194.5L292.2 1242.2L292.6 1196.6L293 1243.3L293.4 1196L293.8 1244.8L294.2 1195L294.6 1241.8L295 1196.1L295.4 1243.6L295.8 1191.8L296.2 1243.4L296.6 1196L297 1243.9L297.4 1194.8L297.8 1242.6L298.2 1193.3L298.6 1242.5L299 1195.2L299.4 1243.7L299.8 1194.4L300.2 1243.1L300.6 1196.6L301 1241.9L301.4 1196.6L301.8 1242.6L302.2 1196.2L302.6 1243.1L303 1196.6L303.4 1241.7L303.8 1194.3L304.2 1245.5L304.6 1195.1L305 1244.1L305.4 1196.3L305.8 1243L306.2 1196.3L306.6 1243.7L307 1194.6L307.4 1244.6L307.8 1194.7L308.2 1244.5L308.6 1195.5L309 1242.3L309.4 1194.6L309.8 1241.7L310.2 1194.2L310.6 1243L311 1196.2L311.4 1242.2L311.8 1195.4L312.2 1247L312.6 1196.4L313 1243.6L313.4 1196.7L313.8 1241.9L314.2 1196.4L314.6 1242.4L315 1196.5L315.4 1244.4L315.8 1194.8L316.2 1243L316.6 1193.3L317 1243.2L317.4 1196.1L317.8 1242.7L318.2 1196.6L318.6 1242.3L319 1195.5L319.4 1242.9L319.8 1196.1L320.2 1244.1L320.6 1196.8L321 1243.1L321.4 1193.4L321.8 1243L322.2 1196.8L322.6 1242.9L323 1196.8L323.4 1242.2L323.8 1196.5L324.2 1244.1L324.6 1194.9L325 1242.6L325.4 1196L325.8 1243.9L326.2 1193L326.6 1243.1L327 1196.8L327.4 1242.6L327.8 1193.2L328.2 1242.3L328.6 1196.4L329 1242.5L329.4 1196.2L329.8 1242.6L330.2 1195.6L330.6 1245.3L331 1195.5L331.4 1244.2L331.8 1195.8L332.2 1241.8L332.6 1192.9L333 1242.1L333.4 1196L333.8 1241.7L334.2 1195.9L334.6 1243.1L335 1196.8L335.4 1242.4L335.8 1195.7L336.2 1242.1L336.6 1196L337 1243.3L337.4 1195.5L337.8 1241.9L338.2 1196.3L338.6 1242.3L339 1195.5L339.4 1242.8L339.8 1195.8L340.2 1242.6L340.6 1196.3L341 1242.9L341.4 1195L341.8 1243.3L342.2 1192.3L342.6 1242.2L343 1196.9L343.4 1243.1L343.8 1193.8L344.2 1243.7L344.6 1195.4L345 1241.9L345.4 1196.5L345.8 1243.1L346.2 1193.9L346.6 1244.9L347 1196.4L347.4 1243.7L347.8 1196.7L348.2 1247.2L348.6 1196.3L349 1241.8L349.4 1196.9L349.8 1244.1L350.2 1194.4L350.6 1243.5L351 1195.7L351.4 1241.9L351.8 1194.9L352.2 1243.7L352.6 1194.8L353 1243.1L353.4 1196.9L353.8 1242L354.2 1194.9L354.6 1243.5L355 1195.7L355.4 1242.2L355.8 1194L356.2 1243.8L356.6 1195L357 1242.9L357.4 1195.9L357.8 1243.2L358.2 1194.6L358.6 1244.1L359 1193.6L359.4 1242.5L359.8 1190.6L360.2 1250L360.6 1195L361 1242.4L361.4 1192L361.8 1244.3L362.2 1196.9L362.6 1243L363 1196.8L363.4 1241.9L363.8 1196.1L364.2 1242L364.6 1196.6L365 1242.4L365.4 1193.9L365.8 1242.9L366.2 1195.1L366.6 1242.2L367 1196.5L367.4 1241.8L367.8 1193.1L368.2 1241.8L368.6 1196L369 1242L369.4 1196.6L369.8 1244.4L370.2 1194.9L370.6 1243.5L371 1194.8L371.4 1244.3L371.8 1194.7L372.2 1242.8L372.6 1196L373 1241.9L373.4 1195.7L373.8 1243.3L374.2 1196.1L374.6 1242.3L375 1195.8L375.4 1242.4L375.8 1196.2L376.2 1242L376.6 1196.2L377 1243.6L377.4 1196.8L377.8 1242L378.2 1196.6L378.6 1243.9L379 1195.2L379.4 1243.2L379.8 1195.9L380.2 1243.6L380.6 1196L381 1242L381.4 1195.1L381.8 1242.8L382.2 1195.9L382.6 1244.3L383 1195.8L383.4 1242L383.8 1196.8L384.2 1244.7L384.6 1195.6L385 1243.9L385.4 1196.5L385.8 1244.9L386.2 1195L386.6 1243.9L387 1195.4L387.4 1242.8L387.8 1194.6L388.2 1242.1L388.6 1196.7L389 1245.8L389.4 1195.6L389.8 1243.6L390.2 1196.3L390.6 1243.7L391 1196L391.4 1243.2L391.8 1195.5L392.2 1244.3L392.6 1196.8L393 1242.3L393.4 1196.6L393.8 1242L394.2 1191.5L394.6 1242L395 1195.5L395.4 1242.2L395.8 1195L396.2 1241.8L396.6 1196.5L397 1243.2L397.4 1196.7L397.8 1244.6L398.2 1194.7L398.6 1243.5L399 1194.9L399.4 1242.7L399.8 1195.2L400.2 1244L400.6 1196.2L401 1242.2L401.4 1193.7L401.8 1242.8L402.2 1196.1L402.6 1242.1L403 1196.7L403.4 1241.8L403.8 1194L404.2 1242.3L404.6 1195.4L405 1242.4L405.4 1195.2L405.8 1243.7L406.2 1195.3L406.6 1244.2L407 1192.8L407.4 1243.3L407.8 1195.8L408.2 1245.4L408.6 1196.1L409 1244.1L409.4 1195.7L409.8 1242.5L410.2 1194.7L410.6 1242.7L411 1195.5L411.4 1242.6L411.8 1196.7L412.2 1242.1L412.6 1196.2L413 1243L413.4 1195.5L413.8 1243L414.2 1196.4L414.6 1244.7L415 1196.6L415.4 1246.1L415.8 1194.5L416.2 1241.9L416.6 1191.4L417 1242.4L417.4 1196.8L417.8 1242L418.2 1196.7L418.6 1242.6L419 1196.4L419.4 1243.4L419.8 1195L420.2 1247.3L420.6 1196.8L421 1243.6L421.4 1196.1L421.8 1241.8L422.2 1195.8L422.6 1241.9L423 1195.1L423.4 1243L423.8 1195.5L424.2 1241.9L424.6 1193.5L425 1243.1L425.4 1195.9L425.8 1241.8L426.2 1196.8L426.6 1245.2L427 1195.6L427.4 1241.9L427.8 1195.6L428.2 1242.8L428.6 1196L429 1243.3L429.4 1195.4L429.8 1242L430.2 1196.1L430.6 1245.2L431 1194.3L431.4 1244.8L431.8 1195.9L432.2 1243.5L432.6 1193.8L433 1242.2L433.4 1196.4L433.8 1242.1L434.2 1196.7L434.6 1243.4L435 1195.9L435.4 1243.1L435.8 1196.3L436.2 1242.7L436.6 1189.8L437 1243.4L437.4 1196.2L437.8 1243.5L438.2 1196.6L438.6 1243.2L439 1195.3L439.4 1242L439.8 1196.8L440.2 1241.7L440.6 1193.2L441 1241.8L441.4 1195.8L441.8 1243.3L442.2 1196.5L442.6 1243.5L443 1195.9L443.4 1242.4L443.8 1195.2L444.2 1242.6L444.6 1195.3L445 1243.1L445.4 1196.1L445.8 1244.4L446.2 1194.7L446.6 1242.1L447 1194.2L447.4 1242.7L447.8 1196.6L448.2 1242.3L448.6 1196L449 1241.9L449.4 1196.7L449.8 1242.3L450.2 1192.4L450.6 1243.3L451 1196.9L451.4 1245L451.8 1195L452.2 1241.8L452.6 1196.3L453 1241.8L453.4 1193.6L453.8 1242.1L454.2 1196.9L454.6 1242.2L455 1195.4L455.4 1242.4L455.8 1196.3L456.2 1241.8L456.6 1195.8L457 1242.5L457.4 1196.7L457.8 1242.1L458.2 1196.7L458.6 1243.6L459 1191.1L459.4 1244.1L459.8 1195L460.2 1242.3L460.6 1196L461 1243.5L461.4 1192.2L461.8 1242.1L462.2 1196.6L462.6 1243.4L463 1193.8L463.4 1242.2L463.8 1196.8L464.2 1242.9L464.6 1196.8L465 1242.5L465.4 1196.4L465.8 1243.7L466.2 1194.7L466.6 1244.4L467 1194.6L467.4 1242.7L467.8 1196.4L468.2 1242.2L468.6 1195.9L469 1242.4L469.4 1195.7L469.8 1242.5L470.2 1194.9L470.6 1243.3L471 1196.8L471.4 1245.4L471.8 1196.6L472.2 1243.4L472.6 1196.1L473 1244.5L473.4 1196.1L473.8 1244.7L474.2 1193.2L474.6 1242.3L475 1196.7L475.4 1244.5L475.8 1195.2L476.2 1242L476.6 1196.8L477 1242.7L477.4 1194.8L477.8 1243.1L478.2 1196.7L478.6 1242.7L479 1195.4L479.4 1241.9L479.8 1196.1L480.2 1247.5L480.6 1195.8L481 1244.8L481.4 1194.7L481.8 1242.9L482.2 1195.8L482.6 1242.5L483 1194.8L483.4 1244.9L483.8 1195.8L484.2 1242.7L484.6 1193.8L485 1241.9L485.4 1196.5L485.8 1244.2L486.2 1190.4L486.6 1243.1L487 1196.5L487.4 1241.9L487.8 1196.8L488.2 1242.4L488.6 1195.8L489 1243.4L489.4 1195.3L489.8 1242.1L490.2 1196.1L490.6 1242.6L491 1195.4L491.4 1243L491.8 1191.3L492.2 1243.4L492.6 1196.3L493 1241.9L493.4 1196.7L493.8 1242.6L494.2 1196.3L494.6 1243L495 1195.7L495.4 1242.4L495.8 1193L496.2 1243L496.6 1196.4L497 1242.1L497.4 1194.1L497.8 1242.6L498.2 1196.2L498.6 1242.3L499 1195.2L499.4 1242.4L499.8 1196.2L500.2 1242.1L500.6 1195.6L501 1242.1L501.4 1195.4L501.8 1248.1L502.2 1193.6L502.6 1242.2L503 1194.7L503.4 1244.4L503.8 1196.9L504.2 1241.8L504.6 1195.8L505 1242.8L505.4 1195.1L505.8 1243.6L506.2 1196.5L506.6 1246.4L507 1195.5L507.4 1243L507.8 1195.2L508.2 1242.6L508.6 1194.7L509 1241.9L509.4 1195.6L509.8 1245.8L510.2 1193.9L510.6 1242L511 1196.7L511.4 1242.1L511.8 1196.7L512.2 1244L512.6 1195.4L513 1243.4L513.4 1196.1L513.8 1243.7L514.2 1196.4L514.6 1244.2L515 1196.2L515.4 1241.8L515.8 1195.9L516.2 1243L516.6 1195.7L517 1242.5L517.4 1196.1L517.8 1243.6L518.2 1195.4L518.6 1241.7L519 1196.8L519.4 1244.7L519.8 1195.9L520.2 1242.8L520.6 1196.6L521 1244.2L521.4 1195.8L521.8 1243.7L522.2 1195.4L522.6 1243.2L523 1196.3L523.4 1242.2L523.8 1196.5L524.2 1245.8L524.6 1193.7L525 1243.1L525.4 1195.7L525.8 1247.5L526.2 1196.5L526.6 1243.3L527 1196.5L527.4 1242.6L527.8 1196.3L528.2 1243.6L528.6 1194.2L529 1243.1L529.4 1195.4L529.8 1244.6L530.2 1196.9L530.6 1244.3L531 1195L531.4 1243.3L531.8 1196L532.2 1245.1L532.6 1193.5L533 1242.7L533.4 1195.1L533.8 1242.5" fill="none" stroke="#131313" stroke-width="1.25" stroke-linejoin="bevel"/>
</g>
<g>
<path d="M714.3 832.7 L715.6 835.7 L716.9 835.9 L718.2 840.7 L719.5 835.4 L720.9 834.9 L722.2 833.5 L723.5 834.4 L724.8 832.2 L726.1 832.9 L727.4 834.8 L728.7 828 L730 827.6 L731.4 824.7 L732.7 829 L734 829.8 L735.3 829.8 L736.6 832.2 L737.9 824.6 L739.2 830 L740.5 829.8 L741.9 826.5 L743.2 821.1 L744.5 824.1 L745.8 827.1 L747.1 825.6 L748.4 821.2 L749.7 822.9 L751 824 L752.4 821.9 L753.7 818.6 L755 814.5 L756.3 823.1 L757.6 820.8 L758.9 820.7 L760.2 824.7 L761.5 819.8 L762.9 819.5 L764.2 812.8 L765.5 815.7 L766.8 819.3 L768.1 812.1 L769.4 814.2 L770.7 817.4 L772 813.3 L773.4 812.4 L774.7 812.4 L776 808.9 L777.3 814.5 L778.6 808 L779.9 803.4 L781.2 802.9 L782.5 801.1 L783.9 800.1 L785.2 800.4 L786.5 802.2 L787.8 798.8 L789.1 800.5 L790.4 797.7 L791.7 797.7 L793 792.7 L794.4 790.6 L795.7 790.4 L797 786.2 L798.3 786.9 L799.6 783.9 L800.9 781.7 L802.2 779.6 L803.5 777.3 L804.9 774.9 L806.2 772.4 L807.5 769.7 L808.8 767 L810.1 764.3 L811.4 761.5 L812.7 758.7 L814 755.9 L815.4 753 L816.7 750.2 L818 747.3 L819.3 744.4 L820.6 741.6 L821.9 738.7 L823.2 735.8 L824.5 733 L825.9 730.2 L827.2 727.4 L828.5 724.7 L829.8 721.9 L831.1 719.3 L832.4 716.8 L833.7 714.4 L835 712.2 L836.4 710 L837.7 708 L839 706 L840.3 704.2 L841.6 702.5 L842.9 700.8 L844.2 699.2 L845.5 697.8 L846.9 696.6 L848.2 695.6 L849.5 694.7 L850.8 694.1 L852.1 693.7 L853.4 693.5 L854.7 693.4 L856 693.6 L857.4 694 L858.7 694.5 L860 695.3 L861.3 696.2 L862.6 697.4 L863.9 698.7 L865.2 700.3 L866.5 701.9 L867.9 703.6 L869.2 705.3 L870.5 707.1 L871.8 709 L873.1 711 L874.4 713 L875.7 715.2 L877 717.4 L878.4 719.8 L879.7 722.3 L881 724.8 L882.3 727.4 L883.6 730 L884.9 732.7 L886.2 735.5 L887.5 738.3 L888.9 741.2 L890.2 744.1 L891.5 747.1 L892.8 750.1 L894.1 753.1 L895.4 756.1 L896.7 759.1 L898 762 L899.4 764.8 L900.7 767.7 L902 770.5 L903.3 773.3 L904.6 776 L905.9 778.6 L907.2 781.2 L908.5 783.8 L909.9 786.4 L911.2 790.2 L912.5 790.2 L913.8 795.9 L915.1 796.8 L916.4 799.5 L917.7 801.7 L919 806 L920.4 807.8 L921.7 810.8 L923 812.2 L924.3 817.6 L925.6 819.6 L926.9 823.2 L928.2 827.9 L929.5 826 L930.9 833 L932.2 838.2 L933.5 837.6 L934.8 844.3 L936.1 845.7 L937.4 848.4 L938.7 853.8 L940 857 L941.4 860.6 L942.7 863.5 L944 869 L945.3 872.7 L946.2 872.7 L714.3 872.7 Z" fill="#c6c1ee"/>
<path d="M790.4 872.7 L791.3 869.2 L792.2 864.3 L793 859.5 L793.9 854.8 L794.8 850.1 L795.7 845.5 L796.5 841 L797.4 836.5 L798.3 832.1 L799.2 827.8 L800 823.5 L800.9 819.3 L801.8 815.2 L802.7 811.2 L803.5 807.2 L804.4 803.3 L805.3 799.4 L806.2 795.6 L807 791.9 L807.9 788.3 L808.8 784.7 L809.7 781.2 L810.5 777.8 L811.4 774.4 L812.3 771.1 L813.2 767.9 L814 764.7 L814.9 761.6 L815.8 758.6 L816.7 755.6 L817.5 752.7 L818.4 749.9 L819.3 747.1 L820.2 744.4 L821 741.8 L821.9 739.2 L822.8 736.8 L823.7 734.3 L824.5 732 L825.4 729.7 L826.3 727.5 L827.2 725.4 L828 723.3 L828.9 721.3 L829.8 719.3 L830.7 717.5 L831.5 715.6 L832.4 713.9 L833.3 712.2 L834.2 710.6 L835 709.1 L835.9 707.6 L836.8 706.2 L837.7 704.9 L838.5 703.7 L839.4 702.5 L840.3 701.3 L841.2 700.3 L842 699.3 L842.9 698.4 L843.8 697.5 L844.7 696.7 L845.5 696 L846.4 695.4 L847.3 694.8 L848.2 694.3 L849 693.9 L849.9 693.5 L850.8 693.2 L851.7 692.9 L852.5 692.8 L853.4 692.7 L854.3 692.6 L855.2 692.7 L856 692.8 L856.9 692.9 L857.8 693.2 L858.7 693.5 L859.5 693.9 L860.4 694.3 L861.3 694.8 L862.2 695.4 L863 696 L863.9 696.7 L864.8 697.5 L865.7 698.4 L866.5 699.3 L867.4 700.3 L868.3 701.3 L869.2 702.5 L870 703.7 L870.9 704.9 L871.8 706.2 L872.7 707.6 L873.5 709.1 L874.4 710.6 L875.3 712.2 L876.2 713.9 L877 715.6 L877.9 717.5 L878.8 719.3 L879.7 721.3 L880.5 723.3 L881.4 725.4 L882.3 727.5 L883.2 729.7 L884 732 L884.9 734.3 L885.8 736.8 L886.7 739.2 L887.5 741.8 L888.4 744.4 L889.3 747.1 L890.2 749.9 L891 752.7 L891.9 755.6 L892.8 758.6 L893.7 761.6 L894.5 764.7 L895.4 767.9 L896.3 771.1 L897.2 774.4 L898 777.8 L898.9 781.2 L899.8 784.7 L900.7 788.3 L901.5 791.9 L902.4 795.6 L903.3 799.4 L904.2 803.3 L905 807.2 L905.9 811.2 L906.8 815.2 L907.7 819.3 L908.5 823.5 L909.4 827.8 L910.3 832.1 L911.2 836.5 L912 841 L912.9 845.5 L913.8 850.1 L914.7 854.8 L915.5 859.5 L916.4 864.3 L917.3 869.2 L918.2 872.7 L918.2 872.7 L790.4 872.7 Z" fill="#fdcacd"/>
<path d="M714.3 832.7 L715.6 835.7 L716.9 835.9 L718.2 840.7 L719.5 835.4 L720.9 834.9 L722.2 833.5 L723.5 834.4 L724.8 832.2 L726.1 832.9 L727.4 834.8 L728.7 828 L730 827.6 L731.4 824.7 L732.7 829 L734 829.8 L735.3 829.8 L736.6 832.2 L737.9 824.6 L739.2 830 L740.5 829.8 L741.9 826.5 L743.2 821.1 L744.5 824.1 L745.8 827.1 L747.1 825.6 L748.4 821.2 L749.7 822.9 L751 824 L752.4 821.9 L753.7 818.6 L755 814.5 L756.3 823.1 L757.6 820.8 L758.9 820.7 L760.2 824.7 L761.5 819.8 L762.9 819.5 L764.2 812.8 L765.5 815.7 L766.8 819.3 L768.1 812.1 L769.4 814.2 L770.7 817.4 L772 813.3 L773.4 812.4 L774.7 812.4 L776 808.9 L777.3 814.5 L778.6 808 L779.9 803.4 L781.2 802.9 L782.5 801.1 L783.9 800.1 L785.2 800.4 L786.5 802.2 L787.8 798.8 L789.1 800.5 L790.4 797.7 L791.7 797.7 L793 792.7 L794.4 790.6 L795.7 790.4 L797 786.2 L798.3 786.9 L799.6 783.9 L800.9 781.7 L802.2 779.6 L803.5 777.3 L804.9 774.9 L806.2 772.4 L807.5 769.7 L808.8 767 L810.1 764.3 L811.4 761.5 L812.7 758.7 L814 755.9 L815.4 753 L816.7 750.2 L818 747.3 L819.3 744.4 L820.6 741.6 L821.9 738.7 L823.2 735.8 L824.5 733 L825.9 730.2 L827.2 727.4 L828.5 724.7 L829.8 721.9 L831.1 719.3 L832.4 716.8 L833.7 714.4 L835 712.2 L836.4 710 L837.7 708 L839 706 L840.3 704.2 L841.6 702.5 L842.9 700.8 L844.2 699.2 L845.5 697.8 L846.9 696.6 L848.2 695.6 L849.5 694.7 L850.8 694.1 L852.1 693.7 L853.4 693.5 L854.7 693.4 L856 693.6 L857.4 694 L858.7 694.5 L860 695.3 L861.3 696.2 L862.6 697.4 L863.9 698.7 L865.2 700.3 L866.5 701.9 L867.9 703.6 L869.2 705.3 L870.5 707.1 L871.8 709 L873.1 711 L874.4 713 L875.7 715.2 L877 717.4 L878.4 719.8 L879.7 722.3 L881 724.8 L882.3 727.4 L883.6 730 L884.9 732.7 L886.2 735.5 L887.5 738.3 L888.9 741.2 L890.2 744.1 L891.5 747.1 L892.8 750.1 L894.1 753.1 L895.4 756.1 L896.7 759.1 L898 762 L899.4 764.8 L900.7 767.7 L902 770.5 L903.3 773.3 L904.6 776 L905.9 778.6 L907.2 781.2 L908.5 783.8 L909.9 786.4 L911.2 790.2 L912.5 790.2 L913.8 795.9 L915.1 796.8 L916.4 799.5 L917.7 801.7 L919 806 L920.4 807.8 L921.7 810.8 L923 812.2 L924.3 817.6 L925.6 819.6 L926.9 823.2 L928.2 827.9 L929.5 826 L930.9 833 L932.2 838.2 L933.5 837.6 L934.8 844.3 L936.1 845.7 L937.4 848.4 L938.7 853.8 L940 857 L941.4 860.6 L942.7 863.5 L944 869 L945.3 872.7" fill="none" stroke="#111" stroke-width="6" stroke-linejoin="round" stroke-linecap="butt"/>
<path d="M669.3 645 H679.1 V872.7 H1029.3" fill="none" stroke="#111" stroke-width="2.6" stroke-linejoin="miter"/>
<line x1="669.3" y1="720.9" x2="679.1" y2="720.9" stroke="#111" stroke-width="2.6" stroke-linecap="butt"/>
<line x1="669.3" y1="796.8" x2="679.1" y2="796.8" stroke="#111" stroke-width="2.6" stroke-linecap="butt"/>
<line x1="669.3" y1="872.7" x2="679.1" y2="872.7" stroke="#111" stroke-width="2.6" stroke-linecap="butt"/>
<line x1="679.3" y1="872.7" x2="679.3" y2="881.8" stroke="#111" stroke-width="2.6" stroke-linecap="butt"/>
<text x="668.3" y="912.4" font-size="29.3" text-anchor="middle">–100</text>
<line x1="766.8" y1="872.7" x2="766.8" y2="881.8" stroke="#111" stroke-width="2.6" stroke-linecap="butt"/>
<text x="754.4" y="912.4" font-size="29.3" text-anchor="middle">–50</text>
<line x1="854.3" y1="872.7" x2="854.3" y2="881.8" stroke="#111" stroke-width="2.6" stroke-linecap="butt"/>
<text x="849.5" y="912.4" font-size="29.3" text-anchor="middle">0</text>
<line x1="941.8" y1="872.7" x2="941.8" y2="881.8" stroke="#111" stroke-width="2.6" stroke-linecap="butt"/>
<text x="935.9" y="912.4" font-size="29.3" text-anchor="middle">50</text>
<line x1="1029.3" y1="872.7" x2="1029.3" y2="881.8" stroke="#111" stroke-width="2.6" stroke-linecap="butt"/>
<text x="1025.9" y="912.4" font-size="29.3" text-anchor="middle">100</text>
<text x="606" y="647.7" font-size="29.3">10<tspan dy="-14.6" dx="3" font-size="18.2">0</tspan></text>
<text x="606" y="729.1" font-size="29.3">10<tspan dy="-14.6" dx="3" font-size="18.2">–2</tspan></text>
<text x="606" y="805" font-size="29.3">10<tspan dy="-14.6" dx="3" font-size="18.2">–4</tspan></text>
<text x="606" y="880.9" font-size="29.3">10<tspan dy="-14.6" dx="3" font-size="18.2">–6</tspan></text>
<text x="590.1" y="840.7" font-size="36" text-anchor="start" transform="rotate(-90 590.1 840.7)">Probability</text>
<text x="859.3" y="962.1" font-size="36" text-anchor="middle">Filtered potential (µV)</text>
<text x="691.4" y="660.8" font-size="36" text-anchor="start">spikes</text>
</g>
<g>
<path d="M798.3 1311.7 L800 1293.5 L800.9 1289.6 L801.8 1284.8 L802.7 1280 L803.5 1275.2 L804.4 1270.5 L805.3 1265.9 L806.2 1261.4 L807 1256.9 L807.9 1252.5 L808.8 1248.1 L809.7 1243.8 L810.5 1239.6 L811.4 1235.5 L812.3 1231.4 L813.2 1227.4 L814 1223.5 L814.9 1219.7 L815.8 1215.9 L816.7 1212.2 L817.5 1208.6 L818.4 1205.1 L819.3 1201.7 L820.2 1198.3 L821 1195 L821.9 1191.8 L822.8 1188.7 L823.7 1185.6 L824.5 1182.7 L825.4 1179.8 L826.3 1177.1 L827.2 1174.4 L828 1171.7 L828.9 1169.2 L829.8 1166.8 L830.7 1164.4 L831.5 1162.2 L832.4 1160 L833.3 1157.9 L834.2 1156 L835 1154.1 L835.9 1152.3 L836.8 1150.5 L837.7 1148.9 L838.5 1147.4 L839.4 1145.9 L840.3 1144.6 L841.2 1143.3 L842 1142.2 L842.9 1141.1 L843.8 1140.1 L844.7 1139.2 L845.5 1138.4 L846.4 1137.7 L847.3 1137.1 L848.2 1136.6 L849 1136.1 L849.9 1135.8 L850.8 1135.6 L851.7 1135.4 L852.5 1135.3 L853.4 1135.4 L854.3 1135.5 L855.2 1135.7 L856 1136 L856.9 1136.4 L857.8 1136.9 L858.7 1137.5 L859.5 1138.1 L860.4 1138.9 L861.3 1139.7 L862.2 1140.6 L863 1141.7 L863.9 1142.8 L864.8 1144 L865.7 1145.2 L866.5 1146.6 L867.4 1148.1 L868.3 1149.6 L869.2 1151.2 L870 1152.9 L870.9 1154.7 L871.8 1156.6 L872.7 1158.5 L873.5 1160.5 L874.4 1162.7 L875.3 1164.8 L876.2 1167.1 L877 1169.5 L877.9 1171.9 L878.8 1174.4 L879.7 1176.9 L880.5 1179.6 L881.4 1182.3 L882.3 1185.1 L883.2 1187.9 L884 1190.9 L884.9 1193.9 L885.8 1196.9 L886.7 1200.1 L887.5 1203.3 L888.4 1206.5 L889.3 1209.8 L890.2 1213.2 L891 1216.7 L891.9 1220.2 L892.8 1223.7 L893.7 1227.3 L894.5 1231 L895.4 1234.7 L896.3 1238.5 L897.2 1242.3 L898 1246.2 L898.9 1250.1 L899.8 1254.1 L900.7 1258.1 L901.5 1262.1 L902.4 1266.2 L903.3 1270.4 L904.2 1274.6 L905 1278.8 L905.9 1283 L906.8 1287.3 L907.8 1295 L909.1 1315.9 L909.1 1317 L797.2 1317 Z" fill="#fcc1c5"/>
<path d="M798.3 1311.7 L800 1293.5 L800.9 1289.6 L801.8 1284.8 L802.7 1280 L803.5 1275.2 L804.4 1270.5 L805.3 1265.9 L806.2 1261.4 L807 1256.9 L807.9 1252.5 L808.8 1248.1 L809.7 1243.8 L810.5 1239.6 L811.4 1235.5 L812.3 1231.4 L813.2 1227.4 L814 1223.5 L814.9 1219.7 L815.8 1215.9 L816.7 1212.2 L817.5 1208.6 L818.4 1205.1 L819.3 1201.7 L820.2 1198.3 L821 1195 L821.9 1191.8 L822.8 1188.7 L823.7 1185.6 L824.5 1182.7 L825.4 1179.8 L826.3 1177.1 L827.2 1174.4 L828 1171.7 L828.9 1169.2 L829.8 1166.8 L830.7 1164.4 L831.5 1162.2 L832.4 1160 L833.3 1157.9 L834.2 1156 L835 1154.1 L835.9 1152.3 L836.8 1150.5 L837.7 1148.9 L838.5 1147.4 L839.4 1145.9 L840.3 1144.6 L841.2 1143.3 L842 1142.2 L842.9 1141.1 L843.8 1140.1 L844.7 1139.2 L845.5 1138.4 L846.4 1137.7 L847.3 1137.1 L848.2 1136.6 L849 1136.1 L849.9 1135.8 L850.8 1135.6 L851.7 1135.4 L852.5 1135.3 L853.4 1135.4 L854.3 1135.5 L855.2 1135.7 L856 1136 L856.9 1136.4 L857.8 1136.9 L858.7 1137.5 L859.5 1138.1 L860.4 1138.9 L861.3 1139.7 L862.2 1140.6 L863 1141.7 L863.9 1142.8 L864.8 1144 L865.7 1145.2 L866.5 1146.6 L867.4 1148.1 L868.3 1149.6 L869.2 1151.2 L870 1152.9 L870.9 1154.7 L871.8 1156.6 L872.7 1158.5 L873.5 1160.5 L874.4 1162.7 L875.3 1164.8 L876.2 1167.1 L877 1169.5 L877.9 1171.9 L878.8 1174.4 L879.7 1176.9 L880.5 1179.6 L881.4 1182.3 L882.3 1185.1 L883.2 1187.9 L884 1190.9 L884.9 1193.9 L885.8 1196.9 L886.7 1200.1 L887.5 1203.3 L888.4 1206.5 L889.3 1209.8 L890.2 1213.2 L891 1216.7 L891.9 1220.2 L892.8 1223.7 L893.7 1227.3 L894.5 1231 L895.4 1234.7 L896.3 1238.5 L897.2 1242.3 L898 1246.2 L898.9 1250.1 L899.8 1254.1 L900.7 1258.1 L901.5 1262.1 L902.4 1266.2 L903.3 1270.4 L904.2 1274.6 L905 1278.8 L905.9 1283 L906.8 1287.3 L907.8 1295 L909.1 1315.9" fill="none" stroke="#111" stroke-width="6" stroke-linejoin="round"/>
<path d="M669.3 1089.4 H679.1 V1317 H1029.3" fill="none" stroke="#111" stroke-width="2.6" stroke-linejoin="miter"/>
<line x1="669.3" y1="1165.3" x2="679.1" y2="1165.3" stroke="#111" stroke-width="2.6" stroke-linecap="butt"/>
<line x1="669.3" y1="1241.1" x2="679.1" y2="1241.1" stroke="#111" stroke-width="2.6" stroke-linecap="butt"/>
<line x1="669.3" y1="1317" x2="679.1" y2="1317" stroke="#111" stroke-width="2.6" stroke-linecap="butt"/>
<line x1="679.3" y1="1317" x2="679.3" y2="1326.1" stroke="#111" stroke-width="2.6" stroke-linecap="butt"/>
<text x="668.3" y="1352.7" font-size="29.3" text-anchor="middle">–100</text>
<line x1="766.8" y1="1317" x2="766.8" y2="1326.1" stroke="#111" stroke-width="2.6" stroke-linecap="butt"/>
<text x="754.4" y="1352.7" font-size="29.3" text-anchor="middle">–50</text>
<line x1="854.3" y1="1317" x2="854.3" y2="1326.1" stroke="#111" stroke-width="2.6" stroke-linecap="butt"/>
<text x="849.5" y="1352.7" font-size="29.3" text-anchor="middle">0</text>
<line x1="941.8" y1="1317" x2="941.8" y2="1326.1" stroke="#111" stroke-width="2.6" stroke-linecap="butt"/>
<text x="935.9" y="1352.7" font-size="29.3" text-anchor="middle">50</text>
<line x1="1029.3" y1="1317" x2="1029.3" y2="1326.1" stroke="#111" stroke-width="2.6" stroke-linecap="butt"/>
<text x="1025.9" y="1352.7" font-size="29.3" text-anchor="middle">100</text>
<text x="606" y="1096.6" font-size="29.3">10<tspan dy="-14.6" dx="3" font-size="18.2">0</tspan></text>
<text x="606" y="1173.5" font-size="29.3">10<tspan dy="-14.6" dx="3" font-size="18.2">–2</tspan></text>
<text x="606" y="1249.3" font-size="29.3">10<tspan dy="-14.6" dx="3" font-size="18.2">–4</tspan></text>
<text x="606" y="1325.2" font-size="29.3">10<tspan dy="-14.6" dx="3" font-size="18.2">–6</tspan></text>
<text x="582.5" y="1285" font-size="36" text-anchor="start" transform="rotate(-90 582.5 1285)">Probability</text>
<text x="859.3" y="1406.6" font-size="36" text-anchor="middle">Filtered potential (µV)</text>
<text x="691.4" y="1107.6" font-size="36" text-anchor="start">no spikes</text>
</g>
<line x1="923.3" y1="661.3" x2="995.3" y2="661.3" stroke="#111" stroke-width="6" stroke-linecap="butt"/>
<rect x="923.3" y="690" width="72" height="12" fill="#c6c1ee"/>
<rect x="923.3" y="720.7" width="72" height="12" fill="#fcbdc1"/>
<text x="1003.8" y="671.5" font-size="29.3" text-anchor="start">Data</text>
<text x="1003.8" y="703.5" font-size="29.3" text-anchor="start">Signal</text>
<text x="1003.8" y="735.5" font-size="29.3" text-anchor="start">Noise</text>
<g>
<rect x="1255.5" y="734.9" width="387.3" height="4.4" fill="#aaa5df"/>
<path d="M1245.1 601.5 H1255.5 V872.6 H1648" fill="none" stroke="#333" stroke-width="2.6" stroke-linejoin="miter"/>
<text x="1241.5" y="609.2" font-size="29.3" text-anchor="end">2</text>
<line x1="1245.1" y1="669.3" x2="1255.5" y2="669.3" stroke="#333" stroke-width="2.6" stroke-linecap="butt"/>
<text x="1241.5" y="677" font-size="29.3" text-anchor="end">1.5</text>
<line x1="1245.1" y1="737" x2="1255.5" y2="737" stroke="#333" stroke-width="2.6" stroke-linecap="butt"/>
<text x="1241.5" y="744.8" font-size="29.3" text-anchor="end">1</text>
<line x1="1245.1" y1="804.8" x2="1255.5" y2="804.8" stroke="#333" stroke-width="2.6" stroke-linecap="butt"/>
<text x="1241.5" y="812.5" font-size="29.3" text-anchor="end">0.5</text>
<line x1="1245.1" y1="872.6" x2="1255.5" y2="872.6" stroke="#333" stroke-width="2.6" stroke-linecap="butt"/>
<text x="1241.5" y="880.3" font-size="29.3" text-anchor="end">0</text>
<line x1="1287.7" y1="872.6" x2="1287.7" y2="882.9" stroke="#333" stroke-width="2.6" stroke-linecap="butt"/>
<text x="1286.7" y="910.9" font-size="29.3" text-anchor="middle">0</text>
<line x1="1320.4" y1="872.6" x2="1320.4" y2="882.9" stroke="#333" stroke-width="2.6" stroke-linecap="butt"/>
<text x="1319.4" y="910.9" font-size="29.3" text-anchor="middle">1</text>
<line x1="1353" y1="872.6" x2="1353" y2="882.9" stroke="#333" stroke-width="2.6" stroke-linecap="butt"/>
<text x="1352" y="910.9" font-size="29.3" text-anchor="middle">2</text>
<line x1="1385.7" y1="872.6" x2="1385.7" y2="882.9" stroke="#333" stroke-width="2.6" stroke-linecap="butt"/>
<text x="1384.7" y="910.9" font-size="29.3" text-anchor="middle">3</text>
<line x1="1418.3" y1="872.6" x2="1418.3" y2="882.9" stroke="#333" stroke-width="2.6" stroke-linecap="butt"/>
<text x="1417.3" y="910.9" font-size="29.3" text-anchor="middle">4</text>
<line x1="1451" y1="872.6" x2="1451" y2="882.9" stroke="#333" stroke-width="2.6" stroke-linecap="butt"/>
<text x="1450" y="910.9" font-size="29.3" text-anchor="middle">5</text>
<line x1="1483.6" y1="872.6" x2="1483.6" y2="882.9" stroke="#333" stroke-width="2.6" stroke-linecap="butt"/>
<text x="1482.6" y="910.9" font-size="29.3" text-anchor="middle">6</text>
<line x1="1516.2" y1="872.6" x2="1516.2" y2="882.9" stroke="#333" stroke-width="2.6" stroke-linecap="butt"/>
<text x="1515.2" y="910.9" font-size="29.3" text-anchor="middle">7</text>
<line x1="1548.9" y1="872.6" x2="1548.9" y2="882.9" stroke="#333" stroke-width="2.6" stroke-linecap="butt"/>
<text x="1547.9" y="910.9" font-size="29.3" text-anchor="middle">8</text>
<line x1="1581.5" y1="872.6" x2="1581.5" y2="882.9" stroke="#333" stroke-width="2.6" stroke-linecap="butt"/>
<text x="1580.5" y="910.9" font-size="29.3" text-anchor="middle">9</text>
<line x1="1614.2" y1="872.6" x2="1614.2" y2="882.9" stroke="#333" stroke-width="2.6" stroke-linecap="butt"/>
<text x="1613.2" y="910.9" font-size="29.3" text-anchor="middle">10</text>
<text x="1454.1" y="961" font-size="36" text-anchor="middle">Week</text>
<text x="1144" y="871.9" font-size="36" text-anchor="start" transform="rotate(-90 1144 871.9)">Normalized</text>
<text x="1187.6" y="871.9" font-size="36" text-anchor="start" transform="rotate(-90 1187.6 871.9)">signal amplitude</text>
<circle cx="1277.9" cy="716.3" r="5.1" fill="#cb2f2a"/>
<circle cx="1310.3" cy="714" r="5.1" fill="#cb2f2a"/>
<circle cx="1343" cy="742.4" r="5.1" fill="#cb2f2a"/>
<circle cx="1375.4" cy="736.9" r="5.1" fill="#cb2f2a"/>
<circle cx="1408.3" cy="744.5" r="5.1" fill="#cb2f2a"/>
<circle cx="1440.9" cy="746.6" r="5.1" fill="#cb2f2a"/>
<circle cx="1473.6" cy="730" r="5.1" fill="#cb2f2a"/>
<circle cx="1506.2" cy="687.7" r="5.1" fill="#cb2f2a"/>
<circle cx="1538.9" cy="691.2" r="5.1" fill="#cb2f2a"/>
<circle cx="1571.6" cy="727.2" r="5.1" fill="#cb2f2a"/>
<circle cx="1604.2" cy="736.9" r="5.1" fill="#cb2f2a"/>
<circle cx="1281" cy="810" r="5.1" fill="#fcaaab"/>
<circle cx="1313.6" cy="747.6" r="5.1" fill="#fcaaab"/>
<circle cx="1346.3" cy="706.9" r="5.1" fill="#fcaaab"/>
<circle cx="1378.7" cy="736.9" r="5.1" fill="#fcaaab"/>
<circle cx="1411.3" cy="732.9" r="5.1" fill="#fcaaab"/>
<circle cx="1444.2" cy="736.9" r="5.1" fill="#fcaaab"/>
<circle cx="1476.7" cy="757.3" r="5.1" fill="#fcaaab"/>
<circle cx="1509.6" cy="755.6" r="5.1" fill="#fcaaab"/>
<circle cx="1542.2" cy="759.6" r="5.1" fill="#fcaaab"/>
<circle cx="1284.3" cy="726.5" r="5.1" fill="#2ea527"/>
<circle cx="1316.9" cy="709.2" r="5.1" fill="#2ea527"/>
<circle cx="1349.6" cy="700.7" r="5.1" fill="#2ea527"/>
<circle cx="1382" cy="721.5" r="5.1" fill="#2ea527"/>
<circle cx="1414.2" cy="736.9" r="5.1" fill="#2ea527"/>
<circle cx="1447.3" cy="756.1" r="5.1" fill="#2ea527"/>
<circle cx="1480" cy="741.6" r="5.1" fill="#2ea527"/>
<circle cx="1287.6" cy="842.7" r="5.1" fill="#d6f092"/>
<circle cx="1320.5" cy="713" r="5.1" fill="#d6f092"/>
<circle cx="1352.9" cy="713" r="5.1" fill="#d6f092"/>
<circle cx="1385.3" cy="736.9" r="5.1" fill="#d6f092"/>
<circle cx="1417.7" cy="736.9" r="5.1" fill="#d6f092"/>
<circle cx="1450.9" cy="698.6" r="5.1" fill="#d6f092"/>
<circle cx="1483.3" cy="764.6" r="5.1" fill="#d6f092"/>
<circle cx="1515.9" cy="746.4" r="5.1" fill="#d6f092"/>
<circle cx="1548.6" cy="709.2" r="5.1" fill="#d6f092"/>
<circle cx="1581.3" cy="755.8" r="5.1" fill="#d6f092"/>
<circle cx="1613.9" cy="730.3" r="5.1" fill="#d6f092"/>
<circle cx="1290.7" cy="831.6" r="5.1" fill="#2e7aba"/>
<circle cx="1323.6" cy="816.2" r="5.1" fill="#2e7aba"/>
<circle cx="1356" cy="749.7" r="5.1" fill="#2e7aba"/>
<circle cx="1388.9" cy="719.6" r="5.1" fill="#2e7aba"/>
<circle cx="1421.5" cy="731.7" r="5.1" fill="#2e7aba"/>
<circle cx="1454.2" cy="738.1" r="5.1" fill="#2e7aba"/>
<circle cx="1486.6" cy="788" r="5.1" fill="#2e7aba"/>
<circle cx="1519.3" cy="773.4" r="5.1" fill="#2e7aba"/>
<circle cx="1551.7" cy="735.7" r="5.1" fill="#2e7aba"/>
<circle cx="1584.6" cy="711.4" r="5.1" fill="#2e7aba"/>
<circle cx="1294" cy="803.6" r="5.1" fill="#c99c6b"/>
<circle cx="1326.9" cy="749.7" r="5.1" fill="#c99c6b"/>
<circle cx="1359.5" cy="686.5" r="5.1" fill="#c99c6b"/>
<circle cx="1391.9" cy="738.1" r="5.1" fill="#c99c6b"/>
<circle cx="1424.6" cy="709" r="5.1" fill="#c99c6b"/>
<circle cx="1457.3" cy="783.8" r="5.1" fill="#c99c6b"/>
<circle cx="1489.9" cy="778.8" r="5.1" fill="#c99c6b"/>
<circle cx="1522.6" cy="710.4" r="5.1" fill="#c99c6b"/>
<circle cx="1555.2" cy="730.5" r="5.1" fill="#c99c6b"/>
<circle cx="1587.9" cy="736.9" r="5.1" fill="#c99c6b"/>
<circle cx="1620.5" cy="742.1" r="5.1" fill="#c99c6b"/>
<circle cx="1338.4" cy="583.6" r="8" fill="#cb2f2a"/>
<text x="1352.5" y="593.7" font-size="29.3" text-anchor="start">M3</text>
<circle cx="1338.4" cy="609.8" r="8" fill="#fcaaab"/>
<text x="1352.5" y="619.8" font-size="29.3" text-anchor="start">M4</text>
<circle cx="1338.4" cy="635.6" r="8" fill="#2ea527"/>
<text x="1352.5" y="645.7" font-size="29.3" text-anchor="start">M5</text>
<circle cx="1422" cy="583.6" r="8" fill="#d6f092"/>
<text x="1436.1" y="593.7" font-size="29.3" text-anchor="start">M6</text>
<circle cx="1422" cy="609.8" r="8" fill="#2e7aba"/>
<text x="1436.1" y="619.8" font-size="29.3" text-anchor="start">M7</text>
<circle cx="1422" cy="635.6" r="8" fill="#c99c6b"/>
<text x="1436.1" y="645.7" font-size="29.3" text-anchor="start">M8</text>
</g>
<g>
<rect x="1254.9" y="1178.6" width="387.9" height="4.4" fill="#fcc7cc"/>
<path d="M1244.5 1045.5 H1254.9 V1317.3 H1648" fill="none" stroke="#333" stroke-width="2.6" stroke-linejoin="miter"/>
<text x="1240.9" y="1053.2" font-size="29.3" text-anchor="end">2</text>
<line x1="1244.5" y1="1113.5" x2="1254.9" y2="1113.5" stroke="#333" stroke-width="2.6" stroke-linecap="butt"/>
<text x="1240.9" y="1121.2" font-size="29.3" text-anchor="end">1.5</text>
<line x1="1244.5" y1="1181.4" x2="1254.9" y2="1181.4" stroke="#333" stroke-width="2.6" stroke-linecap="butt"/>
<text x="1240.9" y="1189.1" font-size="29.3" text-anchor="end">1</text>
<line x1="1244.5" y1="1249.3" x2="1254.9" y2="1249.3" stroke="#333" stroke-width="2.6" stroke-linecap="butt"/>
<text x="1240.9" y="1257" font-size="29.3" text-anchor="end">0.5</text>
<line x1="1244.5" y1="1317.3" x2="1254.9" y2="1317.3" stroke="#333" stroke-width="2.6" stroke-linecap="butt"/>
<text x="1240.9" y="1325" font-size="29.3" text-anchor="end">0</text>
<line x1="1287.3" y1="1317.3" x2="1287.3" y2="1326.9" stroke="#333" stroke-width="2.6" stroke-linecap="butt"/>
<text x="1286.3" y="1352.9" font-size="29.3" text-anchor="middle">0</text>
<line x1="1320" y1="1317.3" x2="1320" y2="1326.9" stroke="#333" stroke-width="2.6" stroke-linecap="butt"/>
<text x="1319" y="1352.9" font-size="29.3" text-anchor="middle">1</text>
<line x1="1352.6" y1="1317.3" x2="1352.6" y2="1326.9" stroke="#333" stroke-width="2.6" stroke-linecap="butt"/>
<text x="1351.6" y="1352.9" font-size="29.3" text-anchor="middle">2</text>
<line x1="1385.2" y1="1317.3" x2="1385.2" y2="1326.9" stroke="#333" stroke-width="2.6" stroke-linecap="butt"/>
<text x="1384.2" y="1352.9" font-size="29.3" text-anchor="middle">3</text>
<line x1="1417.9" y1="1317.3" x2="1417.9" y2="1326.9" stroke="#333" stroke-width="2.6" stroke-linecap="butt"/>
<text x="1416.9" y="1352.9" font-size="29.3" text-anchor="middle">4</text>
<line x1="1450.5" y1="1317.3" x2="1450.5" y2="1326.9" stroke="#333" stroke-width="2.6" stroke-linecap="butt"/>
<text x="1449.5" y="1352.9" font-size="29.3" text-anchor="middle">5</text>
<line x1="1483.2" y1="1317.3" x2="1483.2" y2="1326.9" stroke="#333" stroke-width="2.6" stroke-linecap="butt"/>
<text x="1482.2" y="1352.9" font-size="29.3" text-anchor="middle">6</text>
<line x1="1515.8" y1="1317.3" x2="1515.8" y2="1326.9" stroke="#333" stroke-width="2.6" stroke-linecap="butt"/>
<text x="1514.8" y="1352.9" font-size="29.3" text-anchor="middle">7</text>
<line x1="1548.5" y1="1317.3" x2="1548.5" y2="1326.9" stroke="#333" stroke-width="2.6" stroke-linecap="butt"/>
<text x="1547.5" y="1352.9" font-size="29.3" text-anchor="middle">8</text>
<line x1="1581.1" y1="1317.3" x2="1581.1" y2="1326.9" stroke="#333" stroke-width="2.6" stroke-linecap="butt"/>
<text x="1580.1" y="1352.9" font-size="29.3" text-anchor="middle">9</text>
<line x1="1613.8" y1="1317.3" x2="1613.8" y2="1326.9" stroke="#333" stroke-width="2.6" stroke-linecap="butt"/>
<text x="1612.8" y="1352.9" font-size="29.3" text-anchor="middle">10</text>
<text x="1457.5" y="1405.2" font-size="36" text-anchor="middle">Week</text>
<text x="1144" y="1296.3" font-size="36" text-anchor="start" transform="rotate(-90 1144 1296.3)">Normalized</text>
<text x="1187.6" y="1296.3" font-size="36" text-anchor="start" transform="rotate(-90 1187.6 1296.3)">noise amplitude</text>
<circle cx="1277.6" cy="1113" r="5.1" fill="#cb2f2a"/>
<circle cx="1310.1" cy="1162.9" r="5.1" fill="#cb2f2a"/>
<circle cx="1342.7" cy="1184.7" r="5.1" fill="#cb2f2a"/>
<circle cx="1375.1" cy="1186.1" r="5.1" fill="#cb2f2a"/>
<circle cx="1407.6" cy="1180.9" r="5.1" fill="#cb2f2a"/>
<circle cx="1439.7" cy="1190.6" r="5.1" fill="#cb2f2a"/>
<circle cx="1472.9" cy="1187" r="5.1" fill="#cb2f2a"/>
<circle cx="1506" cy="1180.6" r="5.1" fill="#cb2f2a"/>
<circle cx="1538.7" cy="1179.9" r="5.1" fill="#cb2f2a"/>
<circle cx="1571.3" cy="1185.8" r="5.1" fill="#cb2f2a"/>
<circle cx="1604" cy="1169.3" r="5.1" fill="#cb2f2a"/>
<circle cx="1281" cy="1239.3" r="5.1" fill="#fcaaab"/>
<circle cx="1313.4" cy="1186.6" r="5.1" fill="#fcaaab"/>
<circle cx="1378.7" cy="1189.4" r="5.1" fill="#fcaaab"/>
<circle cx="1411.3" cy="1189.4" r="5.1" fill="#fcaaab"/>
<circle cx="1444" cy="1187" r="5.1" fill="#fcaaab"/>
<circle cx="1476.2" cy="1179.5" r="5.1" fill="#fcaaab"/>
<circle cx="1509.1" cy="1168.8" r="5.1" fill="#fcaaab"/>
<circle cx="1542" cy="1168.3" r="5.1" fill="#fcaaab"/>
<circle cx="1284" cy="1192.7" r="5.1" fill="#2ea527"/>
<circle cx="1316.7" cy="1171.4" r="5.1" fill="#2ea527"/>
<circle cx="1349.3" cy="1155.3" r="5.1" fill="#2ea527"/>
<circle cx="1381.5" cy="1177.6" r="5.1" fill="#2ea527"/>
<circle cx="1414.2" cy="1178.3" r="5.1" fill="#2ea527"/>
<circle cx="1447.1" cy="1196" r="5.1" fill="#2ea527"/>
<circle cx="1479.7" cy="1185.4" r="5.1" fill="#2ea527"/>
<circle cx="1287.3" cy="1278.4" r="5.1" fill="#d6f092"/>
<circle cx="1320" cy="1194.4" r="5.1" fill="#d6f092"/>
<circle cx="1352.7" cy="1194.4" r="5.1" fill="#d6f092"/>
<circle cx="1385.3" cy="1178.7" r="5.1" fill="#d6f092"/>
<circle cx="1417.5" cy="1178.7" r="5.1" fill="#d6f092"/>
<circle cx="1482.8" cy="1179.5" r="5.1" fill="#d6f092"/>
<circle cx="1515.7" cy="1194.4" r="5.1" fill="#d6f092"/>
<circle cx="1613.7" cy="1166.4" r="5.1" fill="#d6f092"/>
<circle cx="1290.7" cy="1261.1" r="5.1" fill="#2e7aba"/>
<circle cx="1323.1" cy="1263" r="5.1" fill="#2e7aba"/>
<circle cx="1355.7" cy="1188.2" r="5.1" fill="#2e7aba"/>
<circle cx="1388.6" cy="1147.5" r="5.1" fill="#2e7aba"/>
<circle cx="1421.1" cy="1160.3" r="5.1" fill="#2e7aba"/>
<circle cx="1453.7" cy="1181.8" r="5.1" fill="#2e7aba"/>
<circle cx="1486.4" cy="1207.9" r="5.1" fill="#2e7aba"/>
<circle cx="1519" cy="1207.1" r="5.1" fill="#2e7aba"/>
<circle cx="1551.7" cy="1161.2" r="5.1" fill="#2e7aba"/>
<circle cx="1584.3" cy="1141.8" r="5.1" fill="#2e7aba"/>
<circle cx="1294" cy="1251.9" r="5.1" fill="#c99c6b"/>
<circle cx="1326.6" cy="1181.8" r="5.1" fill="#c99c6b"/>
<circle cx="1359.3" cy="1150.8" r="5.1" fill="#c99c6b"/>
<circle cx="1391.7" cy="1185.8" r="5.1" fill="#c99c6b"/>
<circle cx="1424.4" cy="1179" r="5.1" fill="#c99c6b"/>
<circle cx="1457" cy="1200.3" r="5.1" fill="#c99c6b"/>
<circle cx="1489.7" cy="1196.3" r="5.1" fill="#c99c6b"/>
<circle cx="1522.3" cy="1158.2" r="5.1" fill="#c99c6b"/>
<circle cx="1555" cy="1188.9" r="5.1" fill="#c99c6b"/>
<circle cx="1587.7" cy="1161.2" r="5.1" fill="#c99c6b"/>
<circle cx="1620.3" cy="1169.8" r="5.1" fill="#c99c6b"/>
</g>
</svg>
</body></html>
